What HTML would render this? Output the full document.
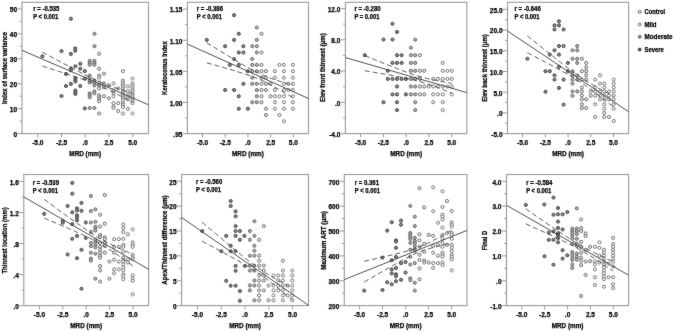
<!DOCTYPE html>
<html><head><meta charset="utf-8"><style>
html,body{margin:0;padding:0;background:#fff;}
body{width:675px;height:331px;overflow:hidden;}
svg{display:block;filter:grayscale(1)}
svg text{font-family:"Liberation Sans",sans-serif;font-weight:bold;font-size:6.5px;fill:#000000;stroke:#000000;stroke-width:0.25px}
</style></head><body>
<svg width="675" height="331" viewBox="0 0 675 331">
<defs><filter id="bl" color-interpolation-filters="sRGB" x="0" y="0" width="675" height="331" filterUnits="userSpaceOnUse"><feConvolveMatrix order="3" kernelMatrix="0.012 0.05 0.012 0.05 0.752 0.05 0.012 0.05 0.012" edgeMode="duplicate" preserveAlpha="true"/></filter></defs>
<g filter="url(#bl)">
<rect width="675" height="331" fill="#fff"/>
<rect x="22" y="2.3" width="126.5" height="131.3" fill="none" stroke="#9a9a9a" stroke-width="1.1"/>
<line x1="17.5" y1="8.9" x2="22" y2="8.9" stroke="#9a9a9a" stroke-width="1"/>
<text x="17" y="12.2" text-anchor="end" textLength="7.23" lengthAdjust="spacingAndGlyphs">50</text>
<line x1="19.7" y1="21.37" x2="22" y2="21.37" stroke="#9a9a9a" stroke-width="1"/>
<line x1="17.5" y1="33.84" x2="22" y2="33.84" stroke="#9a9a9a" stroke-width="1"/>
<text x="17" y="37.14" text-anchor="end" textLength="7.23" lengthAdjust="spacingAndGlyphs">40</text>
<line x1="19.7" y1="46.31" x2="22" y2="46.31" stroke="#9a9a9a" stroke-width="1"/>
<line x1="17.5" y1="58.78" x2="22" y2="58.78" stroke="#9a9a9a" stroke-width="1"/>
<text x="17" y="62.08" text-anchor="end" textLength="7.23" lengthAdjust="spacingAndGlyphs">30</text>
<line x1="19.7" y1="71.25" x2="22" y2="71.25" stroke="#9a9a9a" stroke-width="1"/>
<line x1="17.5" y1="83.72" x2="22" y2="83.72" stroke="#9a9a9a" stroke-width="1"/>
<text x="17" y="87.02" text-anchor="end" textLength="7.23" lengthAdjust="spacingAndGlyphs">20</text>
<line x1="19.7" y1="96.19" x2="22" y2="96.19" stroke="#9a9a9a" stroke-width="1"/>
<line x1="17.5" y1="108.66" x2="22" y2="108.66" stroke="#9a9a9a" stroke-width="1"/>
<text x="17" y="111.96" text-anchor="end" textLength="7.23" lengthAdjust="spacingAndGlyphs">10</text>
<line x1="19.7" y1="121.13" x2="22" y2="121.13" stroke="#9a9a9a" stroke-width="1"/>
<line x1="17.5" y1="133.6" x2="22" y2="133.6" stroke="#9a9a9a" stroke-width="1"/>
<text x="17" y="136.9" text-anchor="end" textLength="3.61" lengthAdjust="spacingAndGlyphs">0</text>
<line x1="37.81" y1="133.6" x2="37.81" y2="137.4" stroke="#9a9a9a" stroke-width="1"/>
<text x="37.81" y="145.1" text-anchor="middle" textLength="11.20" lengthAdjust="spacingAndGlyphs">-5.0</text>
<line x1="61.53" y1="133.6" x2="61.53" y2="137.4" stroke="#9a9a9a" stroke-width="1"/>
<text x="61.53" y="145.1" text-anchor="middle" textLength="11.20" lengthAdjust="spacingAndGlyphs">-2.5</text>
<line x1="85.25" y1="133.6" x2="85.25" y2="137.4" stroke="#9a9a9a" stroke-width="1"/>
<text x="85.25" y="145.1" text-anchor="middle" textLength="5.42" lengthAdjust="spacingAndGlyphs">.0</text>
<line x1="108.97" y1="133.6" x2="108.97" y2="137.4" stroke="#9a9a9a" stroke-width="1"/>
<text x="108.97" y="145.1" text-anchor="middle" textLength="9.04" lengthAdjust="spacingAndGlyphs">2.5</text>
<line x1="132.69" y1="133.6" x2="132.69" y2="137.4" stroke="#9a9a9a" stroke-width="1"/>
<text x="132.69" y="145.1" text-anchor="middle" textLength="9.04" lengthAdjust="spacingAndGlyphs">5.0</text>
<text x="85.25" y="156.2" text-anchor="middle" textLength="31.80" lengthAdjust="spacingAndGlyphs">MRD (mm)</text>
<text transform="translate(6.9,68) rotate(-90)" text-anchor="middle" textLength="72" lengthAdjust="spacingAndGlyphs">Index of surface variance</text>
<text x="33.2" y="11.2" textLength="26.24" lengthAdjust="spacingAndGlyphs">r = -0.535</text>
<text x="33.2" y="19" textLength="25.10" lengthAdjust="spacingAndGlyphs">P &lt; 0.001</text>
<circle cx="70.9" cy="18.7" r="1.55" fill="#8c8c8c" stroke="#404040" stroke-width="0.95"/>
<circle cx="61.5" cy="51.1" r="1.55" fill="#8c8c8c" stroke="#404040" stroke-width="0.95"/>
<circle cx="70.9" cy="53.9" r="1.55" fill="#8c8c8c" stroke="#404040" stroke-width="0.95"/>
<circle cx="75.2" cy="48.4" r="1.55" fill="#8c8c8c" stroke="#404040" stroke-width="0.95"/>
<circle cx="75.2" cy="50.8" r="1.55" fill="#8c8c8c" stroke="#404040" stroke-width="0.95"/>
<circle cx="42.4" cy="56.2" r="1.55" fill="#8c8c8c" stroke="#404040" stroke-width="0.95"/>
<circle cx="75.4" cy="66.2" r="1.55" fill="#8c8c8c" stroke="#404040" stroke-width="0.95"/>
<circle cx="80.3" cy="63.7" r="1.55" fill="#8c8c8c" stroke="#404040" stroke-width="0.95"/>
<circle cx="94.5" cy="33.8" r="1.55" fill="#b4b4b4" stroke="#636363" stroke-width="0.95"/>
<circle cx="94.5" cy="46.2" r="1.55" fill="#b4b4b4" stroke="#636363" stroke-width="0.95"/>
<circle cx="99.2" cy="53.8" r="1.55" fill="#f0f0f0" stroke="#666666" stroke-width="0.95"/>
<circle cx="80.3" cy="68.7" r="1.55" fill="#8c8c8c" stroke="#404040" stroke-width="0.95"/>
<circle cx="84.8" cy="71.1" r="1.55" fill="#8c8c8c" stroke="#404040" stroke-width="0.95"/>
<circle cx="70.9" cy="68.4" r="1.55" fill="#8c8c8c" stroke="#404040" stroke-width="0.95"/>
<circle cx="70.9" cy="70.3" r="1.55" fill="#8c8c8c" stroke="#404040" stroke-width="0.95"/>
<circle cx="66" cy="73.9" r="1.55" fill="#8c8c8c" stroke="#404040" stroke-width="0.95"/>
<circle cx="75.4" cy="78.2" r="1.55" fill="#8c8c8c" stroke="#404040" stroke-width="0.95"/>
<circle cx="75.4" cy="80.1" r="1.55" fill="#8c8c8c" stroke="#404040" stroke-width="0.95"/>
<circle cx="75.4" cy="81.5" r="1.55" fill="#8c8c8c" stroke="#404040" stroke-width="0.95"/>
<circle cx="70.9" cy="83.9" r="1.55" fill="#8c8c8c" stroke="#404040" stroke-width="0.95"/>
<circle cx="66" cy="86" r="1.55" fill="#8c8c8c" stroke="#404040" stroke-width="0.95"/>
<circle cx="80.3" cy="86" r="1.55" fill="#8c8c8c" stroke="#404040" stroke-width="0.95"/>
<circle cx="75.4" cy="90.5" r="1.55" fill="#8c8c8c" stroke="#404040" stroke-width="0.95"/>
<circle cx="75.4" cy="92.3" r="1.55" fill="#8c8c8c" stroke="#404040" stroke-width="0.95"/>
<circle cx="75.4" cy="93.9" r="1.55" fill="#8c8c8c" stroke="#404040" stroke-width="0.95"/>
<circle cx="61.5" cy="96" r="1.55" fill="#8c8c8c" stroke="#404040" stroke-width="0.95"/>
<circle cx="84.8" cy="108.4" r="1.55" fill="#8c8c8c" stroke="#404040" stroke-width="0.95"/>
<circle cx="89.7" cy="60.9" r="1.55" fill="#b4b4b4" stroke="#636363" stroke-width="0.95"/>
<circle cx="89.7" cy="62.9" r="1.55" fill="#b4b4b4" stroke="#636363" stroke-width="0.95"/>
<circle cx="89.7" cy="64.8" r="1.55" fill="#b4b4b4" stroke="#636363" stroke-width="0.95"/>
<circle cx="89.7" cy="75.6" r="1.55" fill="#b4b4b4" stroke="#636363" stroke-width="0.95"/>
<circle cx="89.7" cy="77.6" r="1.55" fill="#b4b4b4" stroke="#636363" stroke-width="0.95"/>
<circle cx="89.7" cy="80.5" r="1.55" fill="#b4b4b4" stroke="#636363" stroke-width="0.95"/>
<circle cx="89.7" cy="82.5" r="1.55" fill="#b4b4b4" stroke="#636363" stroke-width="0.95"/>
<circle cx="89.7" cy="93.3" r="1.55" fill="#b4b4b4" stroke="#636363" stroke-width="0.95"/>
<circle cx="89.7" cy="95.3" r="1.55" fill="#b4b4b4" stroke="#636363" stroke-width="0.95"/>
<circle cx="89.7" cy="97.2" r="1.55" fill="#b4b4b4" stroke="#636363" stroke-width="0.95"/>
<circle cx="89.7" cy="108" r="1.55" fill="#b4b4b4" stroke="#636363" stroke-width="0.95"/>
<circle cx="94.4" cy="60.9" r="1.55" fill="#b4b4b4" stroke="#636363" stroke-width="0.95"/>
<circle cx="94.4" cy="62.9" r="1.55" fill="#b4b4b4" stroke="#636363" stroke-width="0.95"/>
<circle cx="94.4" cy="64.8" r="1.55" fill="#b4b4b4" stroke="#636363" stroke-width="0.95"/>
<circle cx="94.4" cy="80.5" r="1.55" fill="#b4b4b4" stroke="#636363" stroke-width="0.95"/>
<circle cx="94.4" cy="82.5" r="1.55" fill="#b4b4b4" stroke="#636363" stroke-width="0.95"/>
<circle cx="94.4" cy="85.4" r="1.55" fill="#b4b4b4" stroke="#636363" stroke-width="0.95"/>
<circle cx="94.4" cy="91.3" r="1.55" fill="#b4b4b4" stroke="#636363" stroke-width="0.95"/>
<circle cx="94.4" cy="93.3" r="1.55" fill="#b4b4b4" stroke="#636363" stroke-width="0.95"/>
<circle cx="94.4" cy="108" r="1.55" fill="#b4b4b4" stroke="#636363" stroke-width="0.95"/>
<circle cx="85" cy="78.6" r="1.55" fill="#8c8c8c" stroke="#404040" stroke-width="0.95"/>
<circle cx="99.1" cy="68.7" r="1.55" fill="#f0f0f0" stroke="#666666" stroke-width="0.95"/>
<circle cx="99.1" cy="75.6" r="1.55" fill="#f0f0f0" stroke="#666666" stroke-width="0.95"/>
<circle cx="99.1" cy="77.6" r="1.55" fill="#f0f0f0" stroke="#666666" stroke-width="0.95"/>
<circle cx="99.1" cy="82.5" r="1.55" fill="#f0f0f0" stroke="#666666" stroke-width="0.95"/>
<circle cx="99.1" cy="85.4" r="1.55" fill="#f0f0f0" stroke="#666666" stroke-width="0.95"/>
<circle cx="99.1" cy="88.4" r="1.55" fill="#f0f0f0" stroke="#666666" stroke-width="0.95"/>
<circle cx="99.1" cy="95.3" r="1.55" fill="#f0f0f0" stroke="#666666" stroke-width="0.95"/>
<circle cx="99.1" cy="97.2" r="1.55" fill="#f0f0f0" stroke="#666666" stroke-width="0.95"/>
<circle cx="99.1" cy="99.2" r="1.55" fill="#f0f0f0" stroke="#666666" stroke-width="0.95"/>
<circle cx="99.1" cy="101.2" r="1.55" fill="#f0f0f0" stroke="#666666" stroke-width="0.95"/>
<circle cx="99.1" cy="113.5" r="1.55" fill="#f0f0f0" stroke="#666666" stroke-width="0.95"/>
<circle cx="103.9" cy="73.7" r="1.55" fill="#f0f0f0" stroke="#666666" stroke-width="0.95"/>
<circle cx="103.9" cy="83.5" r="1.55" fill="#f0f0f0" stroke="#666666" stroke-width="0.95"/>
<circle cx="103.9" cy="85.4" r="1.55" fill="#f0f0f0" stroke="#666666" stroke-width="0.95"/>
<circle cx="103.9" cy="87.4" r="1.55" fill="#f0f0f0" stroke="#666666" stroke-width="0.95"/>
<circle cx="103.9" cy="96.2" r="1.55" fill="#f0f0f0" stroke="#666666" stroke-width="0.95"/>
<circle cx="108.8" cy="85.4" r="1.55" fill="#f0f0f0" stroke="#666666" stroke-width="0.95"/>
<circle cx="108.8" cy="98.2" r="1.55" fill="#f0f0f0" stroke="#666666" stroke-width="0.95"/>
<circle cx="113.5" cy="83.5" r="1.55" fill="#ffffff" stroke="#707070" stroke-width="0.95"/>
<circle cx="113.5" cy="90.3" r="1.55" fill="#ffffff" stroke="#707070" stroke-width="0.95"/>
<circle cx="113.5" cy="93.3" r="1.55" fill="#ffffff" stroke="#707070" stroke-width="0.95"/>
<circle cx="113.5" cy="96.2" r="1.55" fill="#ffffff" stroke="#707070" stroke-width="0.95"/>
<circle cx="113.5" cy="103.1" r="1.55" fill="#ffffff" stroke="#707070" stroke-width="0.95"/>
<circle cx="113.5" cy="106.1" r="1.55" fill="#ffffff" stroke="#707070" stroke-width="0.95"/>
<circle cx="113.5" cy="108" r="1.55" fill="#ffffff" stroke="#707070" stroke-width="0.95"/>
<circle cx="118.2" cy="88.4" r="1.55" fill="#ffffff" stroke="#707070" stroke-width="0.95"/>
<circle cx="118.2" cy="103.1" r="1.55" fill="#ffffff" stroke="#707070" stroke-width="0.95"/>
<circle cx="118.2" cy="111" r="1.55" fill="#ffffff" stroke="#707070" stroke-width="0.95"/>
<circle cx="122.9" cy="71.1" r="1.55" fill="#ffffff" stroke="#707070" stroke-width="0.95"/>
<circle cx="122.9" cy="80.5" r="1.55" fill="#ffffff" stroke="#707070" stroke-width="0.95"/>
<circle cx="122.9" cy="82.5" r="1.55" fill="#ffffff" stroke="#707070" stroke-width="0.95"/>
<circle cx="122.9" cy="84.5" r="1.55" fill="#ffffff" stroke="#707070" stroke-width="0.95"/>
<circle cx="122.9" cy="86.4" r="1.55" fill="#ffffff" stroke="#707070" stroke-width="0.95"/>
<circle cx="122.9" cy="88.4" r="1.55" fill="#ffffff" stroke="#707070" stroke-width="0.95"/>
<circle cx="122.9" cy="90.3" r="1.55" fill="#ffffff" stroke="#707070" stroke-width="0.95"/>
<circle cx="122.9" cy="92.3" r="1.55" fill="#ffffff" stroke="#707070" stroke-width="0.95"/>
<circle cx="122.9" cy="94.3" r="1.55" fill="#ffffff" stroke="#707070" stroke-width="0.95"/>
<circle cx="122.9" cy="96.2" r="1.55" fill="#ffffff" stroke="#707070" stroke-width="0.95"/>
<circle cx="122.9" cy="98.2" r="1.55" fill="#ffffff" stroke="#707070" stroke-width="0.95"/>
<circle cx="122.9" cy="100.2" r="1.55" fill="#ffffff" stroke="#707070" stroke-width="0.95"/>
<circle cx="122.9" cy="103.1" r="1.55" fill="#ffffff" stroke="#707070" stroke-width="0.95"/>
<circle cx="122.9" cy="105.1" r="1.55" fill="#ffffff" stroke="#707070" stroke-width="0.95"/>
<circle cx="122.9" cy="107" r="1.55" fill="#ffffff" stroke="#707070" stroke-width="0.95"/>
<circle cx="122.9" cy="113.5" r="1.55" fill="#ffffff" stroke="#707070" stroke-width="0.95"/>
<circle cx="127.8" cy="86.4" r="1.55" fill="#ffffff" stroke="#707070" stroke-width="0.95"/>
<circle cx="127.8" cy="91.3" r="1.55" fill="#ffffff" stroke="#707070" stroke-width="0.95"/>
<circle cx="127.8" cy="95.3" r="1.55" fill="#ffffff" stroke="#707070" stroke-width="0.95"/>
<circle cx="127.8" cy="97.2" r="1.55" fill="#ffffff" stroke="#707070" stroke-width="0.95"/>
<circle cx="127.8" cy="99.2" r="1.55" fill="#ffffff" stroke="#707070" stroke-width="0.95"/>
<circle cx="127.8" cy="109" r="1.55" fill="#ffffff" stroke="#707070" stroke-width="0.95"/>
<circle cx="132.5" cy="78.6" r="1.55" fill="#ffffff" stroke="#707070" stroke-width="0.95"/>
<circle cx="132.5" cy="83.5" r="1.55" fill="#ffffff" stroke="#707070" stroke-width="0.95"/>
<circle cx="132.5" cy="85.4" r="1.55" fill="#ffffff" stroke="#707070" stroke-width="0.95"/>
<circle cx="132.5" cy="87.4" r="1.55" fill="#ffffff" stroke="#707070" stroke-width="0.95"/>
<circle cx="132.5" cy="89.4" r="1.55" fill="#ffffff" stroke="#707070" stroke-width="0.95"/>
<circle cx="132.5" cy="91.3" r="1.55" fill="#ffffff" stroke="#707070" stroke-width="0.95"/>
<circle cx="132.5" cy="93.3" r="1.55" fill="#ffffff" stroke="#707070" stroke-width="0.95"/>
<circle cx="132.5" cy="95.3" r="1.55" fill="#ffffff" stroke="#707070" stroke-width="0.95"/>
<circle cx="132.5" cy="97.2" r="1.55" fill="#ffffff" stroke="#707070" stroke-width="0.95"/>
<circle cx="132.5" cy="99.2" r="1.55" fill="#ffffff" stroke="#707070" stroke-width="0.95"/>
<circle cx="132.5" cy="101.2" r="1.55" fill="#ffffff" stroke="#707070" stroke-width="0.95"/>
<circle cx="132.5" cy="103.1" r="1.55" fill="#ffffff" stroke="#707070" stroke-width="0.95"/>
<circle cx="132.5" cy="113.5" r="1.55" fill="#ffffff" stroke="#707070" stroke-width="0.95"/>
<line x1="22" y1="50.3" x2="148.5" y2="104.8" stroke="#3c3c3c" stroke-width="0.9"/>
<polyline points="42.4,52.09 44.66,53.32 46.91,54.54 49.17,55.77 51.43,56.99 53.69,58.21 55.94,59.43 58.2,60.65 60.46,61.87 62.72,63.09 64.97,64.3 67.23,65.51 69.49,66.71 71.75,67.91 74,69.11 76.26,70.3 78.52,71.48 80.78,72.66 83.03,73.82 85.29,74.97 87.55,76.1 89.81,77.22 92.06,78.31 94.32,79.37 96.58,80.4 98.84,81.4 101.09,82.37 103.35,83.3 105.61,84.19 107.87,85.06 110.12,85.9 112.38,86.72 114.64,87.53 116.9,88.31 119.15,89.09 121.41,89.86 123.67,90.62 125.93,91.37 128.18,92.11 130.44,92.86 132.7,93.59" fill="none" stroke="#3c3c3c" stroke-width="0.85" stroke-dasharray="5 3"/>
<polyline points="42.4,66.09 44.66,66.81 46.91,67.52 49.17,68.25 51.43,68.97 53.69,69.69 55.94,70.41 58.2,71.14 60.46,71.87 62.72,72.6 64.97,73.33 67.23,74.07 69.49,74.81 71.75,75.55 74,76.3 76.26,77.06 78.52,77.82 80.78,78.59 83.03,79.37 85.29,80.17 87.55,80.98 89.81,81.81 92.06,82.66 94.32,83.55 96.58,84.46 98.84,85.4 101.09,86.39 103.35,87.4 105.61,88.45 107.87,89.53 110.12,90.63 112.38,91.76 114.64,92.9 116.9,94.05 119.15,95.22 121.41,96.4 123.67,97.59 125.93,98.78 128.18,99.98 130.44,101.18 132.7,102.39" fill="none" stroke="#3c3c3c" stroke-width="0.85" stroke-dasharray="5 3"/>
<rect x="187.4" y="2.3" width="121.1" height="131.3" fill="none" stroke="#9a9a9a" stroke-width="1.1"/>
<line x1="182.9" y1="9.1" x2="187.4" y2="9.1" stroke="#9a9a9a" stroke-width="1"/>
<text x="182.4" y="12.4" text-anchor="end" textLength="12.65" lengthAdjust="spacingAndGlyphs">1.15</text>
<line x1="185.1" y1="24.66" x2="187.4" y2="24.66" stroke="#9a9a9a" stroke-width="1"/>
<line x1="182.9" y1="40.23" x2="187.4" y2="40.23" stroke="#9a9a9a" stroke-width="1"/>
<text x="182.4" y="43.52" text-anchor="end" textLength="12.65" lengthAdjust="spacingAndGlyphs">1.10</text>
<line x1="185.1" y1="55.79" x2="187.4" y2="55.79" stroke="#9a9a9a" stroke-width="1"/>
<line x1="182.9" y1="71.35" x2="187.4" y2="71.35" stroke="#9a9a9a" stroke-width="1"/>
<text x="182.4" y="74.65" text-anchor="end" textLength="12.65" lengthAdjust="spacingAndGlyphs">1.05</text>
<line x1="185.1" y1="86.91" x2="187.4" y2="86.91" stroke="#9a9a9a" stroke-width="1"/>
<line x1="182.9" y1="102.47" x2="187.4" y2="102.47" stroke="#9a9a9a" stroke-width="1"/>
<text x="182.4" y="105.77" text-anchor="end" textLength="12.65" lengthAdjust="spacingAndGlyphs">1.00</text>
<line x1="185.1" y1="118.04" x2="187.4" y2="118.04" stroke="#9a9a9a" stroke-width="1"/>
<line x1="182.9" y1="133.6" x2="187.4" y2="133.6" stroke="#9a9a9a" stroke-width="1"/>
<text x="182.4" y="136.9" text-anchor="end" textLength="9.04" lengthAdjust="spacingAndGlyphs">.95</text>
<line x1="202.54" y1="133.6" x2="202.54" y2="137.4" stroke="#9a9a9a" stroke-width="1"/>
<text x="202.54" y="145.1" text-anchor="middle" textLength="11.20" lengthAdjust="spacingAndGlyphs">-5.0</text>
<line x1="225.24" y1="133.6" x2="225.24" y2="137.4" stroke="#9a9a9a" stroke-width="1"/>
<text x="225.24" y="145.1" text-anchor="middle" textLength="11.20" lengthAdjust="spacingAndGlyphs">-2.5</text>
<line x1="247.95" y1="133.6" x2="247.95" y2="137.4" stroke="#9a9a9a" stroke-width="1"/>
<text x="247.95" y="145.1" text-anchor="middle" textLength="5.42" lengthAdjust="spacingAndGlyphs">.0</text>
<line x1="270.66" y1="133.6" x2="270.66" y2="137.4" stroke="#9a9a9a" stroke-width="1"/>
<text x="270.66" y="145.1" text-anchor="middle" textLength="9.04" lengthAdjust="spacingAndGlyphs">2.5</text>
<line x1="293.36" y1="133.6" x2="293.36" y2="137.4" stroke="#9a9a9a" stroke-width="1"/>
<text x="293.36" y="145.1" text-anchor="middle" textLength="9.04" lengthAdjust="spacingAndGlyphs">5.0</text>
<text x="247.95" y="156.2" text-anchor="middle" textLength="31.80" lengthAdjust="spacingAndGlyphs">MRD (mm)</text>
<text transform="translate(166.9,68.1) rotate(-90)" text-anchor="middle" textLength="53.6" lengthAdjust="spacingAndGlyphs">Keratoconus index</text>
<text x="196.8" y="11.2" textLength="26.24" lengthAdjust="spacingAndGlyphs">r = -0.386</text>
<text x="196.8" y="19" textLength="25.10" lengthAdjust="spacingAndGlyphs">P &lt; 0.001</text>
<circle cx="234.1" cy="15.2" r="1.55" fill="#8c8c8c" stroke="#404040" stroke-width="0.95"/>
<circle cx="238.8" cy="33.8" r="1.55" fill="#8c8c8c" stroke="#404040" stroke-width="0.95"/>
<circle cx="206.8" cy="39.9" r="1.55" fill="#8c8c8c" stroke="#404040" stroke-width="0.95"/>
<circle cx="234.1" cy="39.9" r="1.55" fill="#8c8c8c" stroke="#404040" stroke-width="0.95"/>
<circle cx="225.1" cy="46.2" r="1.55" fill="#8c8c8c" stroke="#404040" stroke-width="0.95"/>
<circle cx="243.4" cy="46.2" r="1.55" fill="#8c8c8c" stroke="#404040" stroke-width="0.95"/>
<circle cx="238.8" cy="52.5" r="1.55" fill="#8c8c8c" stroke="#404040" stroke-width="0.95"/>
<circle cx="243.4" cy="52.5" r="1.55" fill="#8c8c8c" stroke="#404040" stroke-width="0.95"/>
<circle cx="234.1" cy="59" r="1.55" fill="#8c8c8c" stroke="#404040" stroke-width="0.95"/>
<circle cx="229.8" cy="64.9" r="1.55" fill="#8c8c8c" stroke="#404040" stroke-width="0.95"/>
<circle cx="238.8" cy="64.9" r="1.55" fill="#8c8c8c" stroke="#404040" stroke-width="0.95"/>
<circle cx="256.8" cy="27.5" r="1.55" fill="#b4b4b4" stroke="#636363" stroke-width="0.95"/>
<circle cx="261.5" cy="33.8" r="1.55" fill="#f0f0f0" stroke="#666666" stroke-width="0.95"/>
<circle cx="256.8" cy="39.9" r="1.55" fill="#b4b4b4" stroke="#636363" stroke-width="0.95"/>
<circle cx="252.3" cy="46.2" r="1.55" fill="#b4b4b4" stroke="#636363" stroke-width="0.95"/>
<circle cx="256.8" cy="46.2" r="1.55" fill="#b4b4b4" stroke="#636363" stroke-width="0.95"/>
<circle cx="256.8" cy="52.5" r="1.55" fill="#b4b4b4" stroke="#636363" stroke-width="0.95"/>
<circle cx="261.5" cy="52.5" r="1.55" fill="#f0f0f0" stroke="#666666" stroke-width="0.95"/>
<circle cx="252.3" cy="59" r="1.55" fill="#b4b4b4" stroke="#636363" stroke-width="0.95"/>
<circle cx="252.3" cy="64.9" r="1.55" fill="#b4b4b4" stroke="#636363" stroke-width="0.95"/>
<circle cx="256.8" cy="64.9" r="1.55" fill="#b4b4b4" stroke="#636363" stroke-width="0.95"/>
<circle cx="261.5" cy="64.9" r="1.55" fill="#f0f0f0" stroke="#666666" stroke-width="0.95"/>
<circle cx="279.4" cy="64.9" r="1.55" fill="#ffffff" stroke="#707070" stroke-width="0.95"/>
<circle cx="283.9" cy="64.9" r="1.55" fill="#ffffff" stroke="#707070" stroke-width="0.95"/>
<circle cx="292.9" cy="64.9" r="1.55" fill="#ffffff" stroke="#707070" stroke-width="0.95"/>
<circle cx="243.4" cy="83.8" r="1.55" fill="#8c8c8c" stroke="#404040" stroke-width="0.95"/>
<circle cx="225.1" cy="90" r="1.55" fill="#8c8c8c" stroke="#404040" stroke-width="0.95"/>
<circle cx="234.1" cy="90" r="1.55" fill="#8c8c8c" stroke="#404040" stroke-width="0.95"/>
<circle cx="238.8" cy="96.3" r="1.55" fill="#8c8c8c" stroke="#404040" stroke-width="0.95"/>
<circle cx="238.8" cy="108.7" r="1.55" fill="#8c8c8c" stroke="#404040" stroke-width="0.95"/>
<circle cx="247.9" cy="108.7" r="1.55" fill="#8c8c8c" stroke="#404040" stroke-width="0.95"/>
<circle cx="247.7" cy="71.2" r="1.55" fill="#8c8c8c" stroke="#404040" stroke-width="0.95"/>
<circle cx="252.3" cy="71.2" r="1.55" fill="#b4b4b4" stroke="#636363" stroke-width="0.95"/>
<circle cx="256.8" cy="71.2" r="1.55" fill="#b4b4b4" stroke="#636363" stroke-width="0.95"/>
<circle cx="261.5" cy="71.2" r="1.55" fill="#f0f0f0" stroke="#666666" stroke-width="0.95"/>
<circle cx="266" cy="71.2" r="1.55" fill="#f0f0f0" stroke="#666666" stroke-width="0.95"/>
<circle cx="274.9" cy="71.2" r="1.55" fill="#ffffff" stroke="#707070" stroke-width="0.95"/>
<circle cx="283.9" cy="71.2" r="1.55" fill="#ffffff" stroke="#707070" stroke-width="0.95"/>
<circle cx="292.9" cy="71.2" r="1.55" fill="#ffffff" stroke="#707070" stroke-width="0.95"/>
<circle cx="252.3" cy="77.7" r="1.55" fill="#b4b4b4" stroke="#636363" stroke-width="0.95"/>
<circle cx="261.5" cy="77.7" r="1.55" fill="#f0f0f0" stroke="#666666" stroke-width="0.95"/>
<circle cx="266" cy="77.7" r="1.55" fill="#f0f0f0" stroke="#666666" stroke-width="0.95"/>
<circle cx="274.9" cy="77.7" r="1.55" fill="#ffffff" stroke="#707070" stroke-width="0.95"/>
<circle cx="283.9" cy="77.7" r="1.55" fill="#ffffff" stroke="#707070" stroke-width="0.95"/>
<circle cx="292.9" cy="77.7" r="1.55" fill="#ffffff" stroke="#707070" stroke-width="0.95"/>
<circle cx="252.3" cy="83.8" r="1.55" fill="#b4b4b4" stroke="#636363" stroke-width="0.95"/>
<circle cx="256.8" cy="83.8" r="1.55" fill="#b4b4b4" stroke="#636363" stroke-width="0.95"/>
<circle cx="261.5" cy="83.8" r="1.55" fill="#f0f0f0" stroke="#666666" stroke-width="0.95"/>
<circle cx="266" cy="83.8" r="1.55" fill="#f0f0f0" stroke="#666666" stroke-width="0.95"/>
<circle cx="270.5" cy="83.8" r="1.55" fill="#f0f0f0" stroke="#666666" stroke-width="0.95"/>
<circle cx="283.9" cy="83.8" r="1.55" fill="#ffffff" stroke="#707070" stroke-width="0.95"/>
<circle cx="288.4" cy="83.8" r="1.55" fill="#ffffff" stroke="#707070" stroke-width="0.95"/>
<circle cx="292.9" cy="83.8" r="1.55" fill="#ffffff" stroke="#707070" stroke-width="0.95"/>
<circle cx="256.8" cy="90" r="1.55" fill="#b4b4b4" stroke="#636363" stroke-width="0.95"/>
<circle cx="261.5" cy="90" r="1.55" fill="#f0f0f0" stroke="#666666" stroke-width="0.95"/>
<circle cx="266" cy="90" r="1.55" fill="#f0f0f0" stroke="#666666" stroke-width="0.95"/>
<circle cx="274.9" cy="90" r="1.55" fill="#ffffff" stroke="#707070" stroke-width="0.95"/>
<circle cx="283.9" cy="90" r="1.55" fill="#ffffff" stroke="#707070" stroke-width="0.95"/>
<circle cx="288.4" cy="90" r="1.55" fill="#ffffff" stroke="#707070" stroke-width="0.95"/>
<circle cx="292.9" cy="90" r="1.55" fill="#ffffff" stroke="#707070" stroke-width="0.95"/>
<circle cx="256.8" cy="96.3" r="1.55" fill="#b4b4b4" stroke="#636363" stroke-width="0.95"/>
<circle cx="261.5" cy="96.3" r="1.55" fill="#f0f0f0" stroke="#666666" stroke-width="0.95"/>
<circle cx="270.5" cy="96.3" r="1.55" fill="#f0f0f0" stroke="#666666" stroke-width="0.95"/>
<circle cx="274.9" cy="96.3" r="1.55" fill="#ffffff" stroke="#707070" stroke-width="0.95"/>
<circle cx="279.4" cy="96.3" r="1.55" fill="#ffffff" stroke="#707070" stroke-width="0.95"/>
<circle cx="283.9" cy="96.3" r="1.55" fill="#ffffff" stroke="#707070" stroke-width="0.95"/>
<circle cx="292.9" cy="96.3" r="1.55" fill="#ffffff" stroke="#707070" stroke-width="0.95"/>
<circle cx="252.3" cy="102.2" r="1.55" fill="#b4b4b4" stroke="#636363" stroke-width="0.95"/>
<circle cx="256.8" cy="102.2" r="1.55" fill="#b4b4b4" stroke="#636363" stroke-width="0.95"/>
<circle cx="261.5" cy="102.2" r="1.55" fill="#f0f0f0" stroke="#666666" stroke-width="0.95"/>
<circle cx="274.9" cy="102.2" r="1.55" fill="#ffffff" stroke="#707070" stroke-width="0.95"/>
<circle cx="283.9" cy="102.2" r="1.55" fill="#ffffff" stroke="#707070" stroke-width="0.95"/>
<circle cx="292.9" cy="102.2" r="1.55" fill="#ffffff" stroke="#707070" stroke-width="0.95"/>
<circle cx="266" cy="108.7" r="1.55" fill="#f0f0f0" stroke="#666666" stroke-width="0.95"/>
<circle cx="274.9" cy="108.7" r="1.55" fill="#ffffff" stroke="#707070" stroke-width="0.95"/>
<circle cx="283.9" cy="108.7" r="1.55" fill="#ffffff" stroke="#707070" stroke-width="0.95"/>
<circle cx="292.9" cy="108.7" r="1.55" fill="#ffffff" stroke="#707070" stroke-width="0.95"/>
<circle cx="266" cy="115" r="1.55" fill="#f0f0f0" stroke="#666666" stroke-width="0.95"/>
<circle cx="279.4" cy="115" r="1.55" fill="#ffffff" stroke="#707070" stroke-width="0.95"/>
<circle cx="283.9" cy="121.3" r="1.55" fill="#ffffff" stroke="#707070" stroke-width="0.95"/>
<line x1="187.4" y1="44.1" x2="308.5" y2="98.5" stroke="#3c3c3c" stroke-width="0.9"/>
<polyline points="206.8,42.79 208.96,44.12 211.12,45.45 213.27,46.78 215.43,48.11 217.59,49.43 219.75,50.76 221.9,52.08 224.06,53.39 226.22,54.71 228.38,56.02 230.53,57.32 232.69,58.62 234.85,59.92 237.01,61.21 239.16,62.49 241.32,63.75 243.48,65.01 245.64,66.25 247.79,67.47 249.95,68.67 252.11,69.84 254.27,70.98 256.42,72.08 258.58,73.13 260.74,74.14 262.9,75.1 265.05,76.01 267.21,76.88 269.37,77.7 271.53,78.49 273.68,79.24 275.84,79.97 278,80.68 280.16,81.38 282.31,82.05 284.47,82.72 286.63,83.38 288.79,84.02 290.94,84.67 293.1,85.3" fill="none" stroke="#3c3c3c" stroke-width="0.85" stroke-dasharray="5 3"/>
<polyline points="206.8,62.84 208.96,63.45 211.12,64.05 213.27,64.66 215.43,65.28 217.59,65.89 219.75,66.5 221.9,67.12 224.06,67.74 226.22,68.37 228.38,69 230.53,69.63 232.69,70.26 234.85,70.91 237.01,71.56 239.16,72.22 241.32,72.89 243.48,73.57 245.64,74.27 247.79,74.99 249.95,75.73 252.11,76.5 254.27,77.3 256.42,78.14 258.58,79.02 260.74,79.95 262.9,80.93 265.05,81.95 267.21,83.03 269.37,84.14 271.53,85.29 273.68,86.47 275.84,87.68 278,88.91 280.16,90.16 282.31,91.42 284.47,92.69 286.63,93.97 288.79,95.26 290.94,96.56 293.1,97.86" fill="none" stroke="#3c3c3c" stroke-width="0.85" stroke-dasharray="5 3"/>
<rect x="345.4" y="2.3" width="121.5" height="131.3" fill="none" stroke="#9a9a9a" stroke-width="1.1"/>
<line x1="340.9" y1="8.5" x2="345.4" y2="8.5" stroke="#9a9a9a" stroke-width="1"/>
<text x="340.4" y="11.8" text-anchor="end" textLength="12.65" lengthAdjust="spacingAndGlyphs">12.0</text>
<line x1="343.1" y1="24.14" x2="345.4" y2="24.14" stroke="#9a9a9a" stroke-width="1"/>
<line x1="340.9" y1="39.77" x2="345.4" y2="39.77" stroke="#9a9a9a" stroke-width="1"/>
<text x="340.4" y="43.07" text-anchor="end" textLength="9.04" lengthAdjust="spacingAndGlyphs">8.0</text>
<line x1="343.1" y1="55.41" x2="345.4" y2="55.41" stroke="#9a9a9a" stroke-width="1"/>
<line x1="340.9" y1="71.05" x2="345.4" y2="71.05" stroke="#9a9a9a" stroke-width="1"/>
<text x="340.4" y="74.35" text-anchor="end" textLength="9.04" lengthAdjust="spacingAndGlyphs">4.0</text>
<line x1="343.1" y1="86.69" x2="345.4" y2="86.69" stroke="#9a9a9a" stroke-width="1"/>
<line x1="340.9" y1="102.32" x2="345.4" y2="102.32" stroke="#9a9a9a" stroke-width="1"/>
<text x="340.4" y="105.62" text-anchor="end" textLength="5.42" lengthAdjust="spacingAndGlyphs">.0</text>
<line x1="343.1" y1="117.96" x2="345.4" y2="117.96" stroke="#9a9a9a" stroke-width="1"/>
<line x1="340.9" y1="133.6" x2="345.4" y2="133.6" stroke="#9a9a9a" stroke-width="1"/>
<text x="340.4" y="136.9" text-anchor="end" textLength="11.20" lengthAdjust="spacingAndGlyphs">-4.0</text>
<line x1="360.59" y1="133.6" x2="360.59" y2="137.4" stroke="#9a9a9a" stroke-width="1"/>
<text x="360.59" y="145.1" text-anchor="middle" textLength="11.20" lengthAdjust="spacingAndGlyphs">-5.0</text>
<line x1="383.37" y1="133.6" x2="383.37" y2="137.4" stroke="#9a9a9a" stroke-width="1"/>
<text x="383.37" y="145.1" text-anchor="middle" textLength="11.20" lengthAdjust="spacingAndGlyphs">-2.5</text>
<line x1="406.15" y1="133.6" x2="406.15" y2="137.4" stroke="#9a9a9a" stroke-width="1"/>
<text x="406.15" y="145.1" text-anchor="middle" textLength="5.42" lengthAdjust="spacingAndGlyphs">.0</text>
<line x1="428.93" y1="133.6" x2="428.93" y2="137.4" stroke="#9a9a9a" stroke-width="1"/>
<text x="428.93" y="145.1" text-anchor="middle" textLength="9.04" lengthAdjust="spacingAndGlyphs">2.5</text>
<line x1="451.71" y1="133.6" x2="451.71" y2="137.4" stroke="#9a9a9a" stroke-width="1"/>
<text x="451.71" y="145.1" text-anchor="middle" textLength="9.04" lengthAdjust="spacingAndGlyphs">5.0</text>
<text x="406.15" y="156.2" text-anchor="middle" textLength="31.80" lengthAdjust="spacingAndGlyphs">MRD (mm)</text>
<text transform="translate(325,67.6) rotate(-90)" text-anchor="middle" textLength="68.6" lengthAdjust="spacingAndGlyphs">Elev front thinnest (μm)</text>
<text x="354.4" y="11.2" textLength="26.24" lengthAdjust="spacingAndGlyphs">r = -0.280</text>
<text x="354.4" y="19" textLength="25.10" lengthAdjust="spacingAndGlyphs">P = 0.001</text>
<circle cx="392.5" cy="23.8" r="1.55" fill="#8c8c8c" stroke="#404040" stroke-width="0.95"/>
<circle cx="397" cy="31.9" r="1.55" fill="#8c8c8c" stroke="#404040" stroke-width="0.95"/>
<circle cx="383.5" cy="39.5" r="1.55" fill="#8c8c8c" stroke="#404040" stroke-width="0.95"/>
<circle cx="392.5" cy="39.5" r="1.55" fill="#8c8c8c" stroke="#404040" stroke-width="0.95"/>
<circle cx="364.8" cy="55.2" r="1.55" fill="#8c8c8c" stroke="#404040" stroke-width="0.95"/>
<circle cx="397" cy="55.2" r="1.55" fill="#8c8c8c" stroke="#404040" stroke-width="0.95"/>
<circle cx="401.6" cy="55.2" r="1.55" fill="#8c8c8c" stroke="#404040" stroke-width="0.95"/>
<circle cx="392.5" cy="62.9" r="1.55" fill="#8c8c8c" stroke="#404040" stroke-width="0.95"/>
<circle cx="397" cy="62.9" r="1.55" fill="#8c8c8c" stroke="#404040" stroke-width="0.95"/>
<circle cx="401.6" cy="62.9" r="1.55" fill="#8c8c8c" stroke="#404040" stroke-width="0.95"/>
<circle cx="415.2" cy="39.7" r="1.55" fill="#b4b4b4" stroke="#636363" stroke-width="0.95"/>
<circle cx="410.9" cy="47.6" r="1.55" fill="#b4b4b4" stroke="#636363" stroke-width="0.95"/>
<circle cx="410.9" cy="55.2" r="1.55" fill="#b4b4b4" stroke="#636363" stroke-width="0.95"/>
<circle cx="415.2" cy="55.2" r="1.55" fill="#b4b4b4" stroke="#636363" stroke-width="0.95"/>
<circle cx="419.9" cy="55.2" r="1.55" fill="#f0f0f0" stroke="#666666" stroke-width="0.95"/>
<circle cx="410.9" cy="62.9" r="1.55" fill="#b4b4b4" stroke="#636363" stroke-width="0.95"/>
<circle cx="415.2" cy="62.9" r="1.55" fill="#b4b4b4" stroke="#636363" stroke-width="0.95"/>
<circle cx="442.7" cy="62.9" r="1.55" fill="#ffffff" stroke="#707070" stroke-width="0.95"/>
<circle cx="387.8" cy="70.8" r="1.55" fill="#8c8c8c" stroke="#404040" stroke-width="0.95"/>
<circle cx="397" cy="86.5" r="1.55" fill="#8c8c8c" stroke="#404040" stroke-width="0.95"/>
<circle cx="392.5" cy="94.4" r="1.55" fill="#8c8c8c" stroke="#404040" stroke-width="0.95"/>
<circle cx="397" cy="94.4" r="1.55" fill="#8c8c8c" stroke="#404040" stroke-width="0.95"/>
<circle cx="383.5" cy="102.2" r="1.55" fill="#8c8c8c" stroke="#404040" stroke-width="0.95"/>
<circle cx="397" cy="102.2" r="1.55" fill="#8c8c8c" stroke="#404040" stroke-width="0.95"/>
<circle cx="397" cy="110.1" r="1.55" fill="#8c8c8c" stroke="#404040" stroke-width="0.95"/>
<circle cx="410.9" cy="70.8" r="1.55" fill="#b4b4b4" stroke="#636363" stroke-width="0.95"/>
<circle cx="415.2" cy="70.8" r="1.55" fill="#b4b4b4" stroke="#636363" stroke-width="0.95"/>
<circle cx="419.9" cy="70.8" r="1.55" fill="#f0f0f0" stroke="#666666" stroke-width="0.95"/>
<circle cx="424.2" cy="70.8" r="1.55" fill="#f0f0f0" stroke="#666666" stroke-width="0.95"/>
<circle cx="442.7" cy="70.8" r="1.55" fill="#ffffff" stroke="#707070" stroke-width="0.95"/>
<circle cx="447.4" cy="70.8" r="1.55" fill="#ffffff" stroke="#707070" stroke-width="0.95"/>
<circle cx="451.7" cy="70.8" r="1.55" fill="#ffffff" stroke="#707070" stroke-width="0.95"/>
<circle cx="387.8" cy="78.9" r="1.55" fill="#8c8c8c" stroke="#404040" stroke-width="0.95"/>
<circle cx="392.5" cy="78.9" r="1.55" fill="#8c8c8c" stroke="#404040" stroke-width="0.95"/>
<circle cx="397" cy="78.9" r="1.55" fill="#8c8c8c" stroke="#404040" stroke-width="0.95"/>
<circle cx="401.6" cy="78.9" r="1.55" fill="#8c8c8c" stroke="#404040" stroke-width="0.95"/>
<circle cx="405.9" cy="78.9" r="1.55" fill="#8c8c8c" stroke="#404040" stroke-width="0.95"/>
<circle cx="410.9" cy="78.9" r="1.55" fill="#b4b4b4" stroke="#636363" stroke-width="0.95"/>
<circle cx="415.2" cy="78.9" r="1.55" fill="#b4b4b4" stroke="#636363" stroke-width="0.95"/>
<circle cx="419.9" cy="78.9" r="1.55" fill="#f0f0f0" stroke="#666666" stroke-width="0.95"/>
<circle cx="433.2" cy="78.9" r="1.55" fill="#ffffff" stroke="#707070" stroke-width="0.95"/>
<circle cx="438" cy="78.9" r="1.55" fill="#ffffff" stroke="#707070" stroke-width="0.95"/>
<circle cx="442.7" cy="78.9" r="1.55" fill="#ffffff" stroke="#707070" stroke-width="0.95"/>
<circle cx="447.4" cy="78.9" r="1.55" fill="#ffffff" stroke="#707070" stroke-width="0.95"/>
<circle cx="451.7" cy="78.9" r="1.55" fill="#ffffff" stroke="#707070" stroke-width="0.95"/>
<circle cx="410.9" cy="86.5" r="1.55" fill="#b4b4b4" stroke="#636363" stroke-width="0.95"/>
<circle cx="415.2" cy="86.5" r="1.55" fill="#b4b4b4" stroke="#636363" stroke-width="0.95"/>
<circle cx="419.9" cy="86.5" r="1.55" fill="#f0f0f0" stroke="#666666" stroke-width="0.95"/>
<circle cx="424.2" cy="86.5" r="1.55" fill="#f0f0f0" stroke="#666666" stroke-width="0.95"/>
<circle cx="428.7" cy="86.5" r="1.55" fill="#f0f0f0" stroke="#666666" stroke-width="0.95"/>
<circle cx="433.2" cy="86.5" r="1.55" fill="#ffffff" stroke="#707070" stroke-width="0.95"/>
<circle cx="438" cy="86.5" r="1.55" fill="#ffffff" stroke="#707070" stroke-width="0.95"/>
<circle cx="442.7" cy="86.5" r="1.55" fill="#ffffff" stroke="#707070" stroke-width="0.95"/>
<circle cx="447.4" cy="86.5" r="1.55" fill="#ffffff" stroke="#707070" stroke-width="0.95"/>
<circle cx="451.7" cy="86.5" r="1.55" fill="#ffffff" stroke="#707070" stroke-width="0.95"/>
<circle cx="405.9" cy="94.4" r="1.55" fill="#8c8c8c" stroke="#404040" stroke-width="0.95"/>
<circle cx="410.9" cy="94.4" r="1.55" fill="#b4b4b4" stroke="#636363" stroke-width="0.95"/>
<circle cx="415.2" cy="94.4" r="1.55" fill="#b4b4b4" stroke="#636363" stroke-width="0.95"/>
<circle cx="419.9" cy="94.4" r="1.55" fill="#f0f0f0" stroke="#666666" stroke-width="0.95"/>
<circle cx="424.2" cy="94.4" r="1.55" fill="#f0f0f0" stroke="#666666" stroke-width="0.95"/>
<circle cx="433.2" cy="94.4" r="1.55" fill="#ffffff" stroke="#707070" stroke-width="0.95"/>
<circle cx="438" cy="94.4" r="1.55" fill="#ffffff" stroke="#707070" stroke-width="0.95"/>
<circle cx="442.7" cy="94.4" r="1.55" fill="#ffffff" stroke="#707070" stroke-width="0.95"/>
<circle cx="451.7" cy="94.4" r="1.55" fill="#ffffff" stroke="#707070" stroke-width="0.95"/>
<circle cx="415.2" cy="102.2" r="1.55" fill="#b4b4b4" stroke="#636363" stroke-width="0.95"/>
<circle cx="433.2" cy="102.2" r="1.55" fill="#ffffff" stroke="#707070" stroke-width="0.95"/>
<circle cx="442.7" cy="102.2" r="1.55" fill="#ffffff" stroke="#707070" stroke-width="0.95"/>
<circle cx="415.2" cy="110.1" r="1.55" fill="#b4b4b4" stroke="#636363" stroke-width="0.95"/>
<circle cx="442.7" cy="110.1" r="1.55" fill="#ffffff" stroke="#707070" stroke-width="0.95"/>
<line x1="345.4" y1="57.6" x2="466.9" y2="92.6" stroke="#3c3c3c" stroke-width="0.9"/>
<polyline points="364.8,55.6 366.97,56.5 369.14,57.39 371.32,58.28 373.49,59.16 375.66,60.05 377.84,60.93 380.01,61.82 382.18,62.7 384.35,63.57 386.52,64.44 388.7,65.31 390.87,66.18 393.04,67.04 395.22,67.89 397.39,68.73 399.56,69.57 401.73,70.39 403.9,71.21 406.08,72.01 408.25,72.79 410.42,73.55 412.6,74.29 414.77,75 416.94,75.68 419.11,76.33 421.29,76.95 423.46,77.54 425.63,78.1 427.8,78.63 429.98,79.13 432.15,79.62 434.32,80.08 436.49,80.53 438.66,80.96 440.84,81.38 443.01,81.8 445.18,82.2 447.36,82.6 449.53,82.99 451.7,83.37" fill="none" stroke="#3c3c3c" stroke-width="0.85" stroke-dasharray="5 3"/>
<polyline points="364.8,70.77 366.97,71.13 369.14,71.49 371.32,71.86 373.49,72.22 375.66,72.58 377.84,72.95 380.01,73.32 382.18,73.69 384.35,74.07 386.52,74.45 388.7,74.83 390.87,75.22 393.04,75.61 395.22,76.01 397.39,76.42 399.56,76.83 401.73,77.26 403.9,77.7 406.08,78.15 408.25,78.62 410.42,79.11 412.6,79.63 414.77,80.17 416.94,80.74 419.11,81.34 421.29,81.97 423.46,82.63 425.63,83.32 427.8,84.05 429.98,84.79 432.15,85.56 434.32,86.35 436.49,87.15 438.66,87.97 440.84,88.8 443.01,89.64 445.18,90.49 447.36,91.34 449.53,92.2 451.7,93.07" fill="none" stroke="#3c3c3c" stroke-width="0.85" stroke-dasharray="5 3"/>
<rect x="507.5" y="2.3" width="121.1" height="131.3" fill="none" stroke="#9a9a9a" stroke-width="1.1"/>
<line x1="503" y1="9.4" x2="507.5" y2="9.4" stroke="#9a9a9a" stroke-width="1"/>
<text x="502.5" y="12.7" text-anchor="end" textLength="12.65" lengthAdjust="spacingAndGlyphs">25.0</text>
<line x1="505.2" y1="19.75" x2="507.5" y2="19.75" stroke="#9a9a9a" stroke-width="1"/>
<line x1="503" y1="30.1" x2="507.5" y2="30.1" stroke="#9a9a9a" stroke-width="1"/>
<text x="502.5" y="33.4" text-anchor="end" textLength="12.65" lengthAdjust="spacingAndGlyphs">20.0</text>
<line x1="505.2" y1="40.45" x2="507.5" y2="40.45" stroke="#9a9a9a" stroke-width="1"/>
<line x1="503" y1="50.8" x2="507.5" y2="50.8" stroke="#9a9a9a" stroke-width="1"/>
<text x="502.5" y="54.1" text-anchor="end" textLength="12.65" lengthAdjust="spacingAndGlyphs">15.0</text>
<line x1="505.2" y1="61.15" x2="507.5" y2="61.15" stroke="#9a9a9a" stroke-width="1"/>
<line x1="503" y1="71.5" x2="507.5" y2="71.5" stroke="#9a9a9a" stroke-width="1"/>
<text x="502.5" y="74.8" text-anchor="end" textLength="12.65" lengthAdjust="spacingAndGlyphs">10.0</text>
<line x1="505.2" y1="81.85" x2="507.5" y2="81.85" stroke="#9a9a9a" stroke-width="1"/>
<line x1="503" y1="92.2" x2="507.5" y2="92.2" stroke="#9a9a9a" stroke-width="1"/>
<text x="502.5" y="95.5" text-anchor="end" textLength="9.04" lengthAdjust="spacingAndGlyphs">5.0</text>
<line x1="505.2" y1="102.55" x2="507.5" y2="102.55" stroke="#9a9a9a" stroke-width="1"/>
<line x1="503" y1="112.9" x2="507.5" y2="112.9" stroke="#9a9a9a" stroke-width="1"/>
<text x="502.5" y="116.2" text-anchor="end" textLength="5.42" lengthAdjust="spacingAndGlyphs">.0</text>
<line x1="505.2" y1="123.25" x2="507.5" y2="123.25" stroke="#9a9a9a" stroke-width="1"/>
<line x1="503" y1="133.6" x2="507.5" y2="133.6" stroke="#9a9a9a" stroke-width="1"/>
<text x="502.5" y="136.9" text-anchor="end" textLength="11.20" lengthAdjust="spacingAndGlyphs">-5.0</text>
<line x1="522.64" y1="133.6" x2="522.64" y2="137.4" stroke="#9a9a9a" stroke-width="1"/>
<text x="522.64" y="145.1" text-anchor="middle" textLength="11.20" lengthAdjust="spacingAndGlyphs">-5.0</text>
<line x1="545.34" y1="133.6" x2="545.34" y2="137.4" stroke="#9a9a9a" stroke-width="1"/>
<text x="545.34" y="145.1" text-anchor="middle" textLength="11.20" lengthAdjust="spacingAndGlyphs">-2.5</text>
<line x1="568.05" y1="133.6" x2="568.05" y2="137.4" stroke="#9a9a9a" stroke-width="1"/>
<text x="568.05" y="145.1" text-anchor="middle" textLength="5.42" lengthAdjust="spacingAndGlyphs">.0</text>
<line x1="590.76" y1="133.6" x2="590.76" y2="137.4" stroke="#9a9a9a" stroke-width="1"/>
<text x="590.76" y="145.1" text-anchor="middle" textLength="9.04" lengthAdjust="spacingAndGlyphs">2.5</text>
<line x1="613.46" y1="133.6" x2="613.46" y2="137.4" stroke="#9a9a9a" stroke-width="1"/>
<text x="613.46" y="145.1" text-anchor="middle" textLength="9.04" lengthAdjust="spacingAndGlyphs">5.0</text>
<text x="568.05" y="156.2" text-anchor="middle" textLength="31.80" lengthAdjust="spacingAndGlyphs">MRD (mm)</text>
<text transform="translate(486.9,68) rotate(-90)" text-anchor="middle" textLength="67.6" lengthAdjust="spacingAndGlyphs">Elev back thinnest (μm)</text>
<text x="514.5" y="11.2" textLength="26.24" lengthAdjust="spacingAndGlyphs">r = -0.646</text>
<text x="514.5" y="19" textLength="25.10" lengthAdjust="spacingAndGlyphs">P &lt; 0.001</text>
<circle cx="559" cy="21.3" r="1.55" fill="#8c8c8c" stroke="#404040" stroke-width="0.95"/>
<circle cx="554.5" cy="25.4" r="1.55" fill="#8c8c8c" stroke="#404040" stroke-width="0.95"/>
<circle cx="559" cy="25.4" r="1.55" fill="#8c8c8c" stroke="#404040" stroke-width="0.95"/>
<circle cx="554.5" cy="29.5" r="1.55" fill="#8c8c8c" stroke="#404040" stroke-width="0.95"/>
<circle cx="563.6" cy="29.5" r="1.55" fill="#8c8c8c" stroke="#404040" stroke-width="0.95"/>
<circle cx="559" cy="46" r="1.55" fill="#8c8c8c" stroke="#404040" stroke-width="0.95"/>
<circle cx="563.6" cy="46" r="1.55" fill="#8c8c8c" stroke="#404040" stroke-width="0.95"/>
<circle cx="554.5" cy="50.3" r="1.55" fill="#8c8c8c" stroke="#404040" stroke-width="0.95"/>
<circle cx="549.8" cy="54.6" r="1.55" fill="#8c8c8c" stroke="#404040" stroke-width="0.95"/>
<circle cx="559" cy="54.6" r="1.55" fill="#8c8c8c" stroke="#404040" stroke-width="0.95"/>
<circle cx="527.4" cy="58.8" r="1.55" fill="#8c8c8c" stroke="#404040" stroke-width="0.95"/>
<circle cx="559" cy="66.8" r="1.55" fill="#8c8c8c" stroke="#404040" stroke-width="0.95"/>
<circle cx="577.2" cy="46" r="1.55" fill="#b4b4b4" stroke="#636363" stroke-width="0.95"/>
<circle cx="572.5" cy="50.3" r="1.55" fill="#b4b4b4" stroke="#636363" stroke-width="0.95"/>
<circle cx="577.2" cy="50.3" r="1.55" fill="#b4b4b4" stroke="#636363" stroke-width="0.95"/>
<circle cx="572.5" cy="58.8" r="1.55" fill="#b4b4b4" stroke="#636363" stroke-width="0.95"/>
<circle cx="577.2" cy="58.8" r="1.55" fill="#b4b4b4" stroke="#636363" stroke-width="0.95"/>
<circle cx="581.9" cy="58.8" r="1.55" fill="#f0f0f0" stroke="#666666" stroke-width="0.95"/>
<circle cx="577.2" cy="62.9" r="1.55" fill="#b4b4b4" stroke="#636363" stroke-width="0.95"/>
<circle cx="567.9" cy="62.9" r="1.55" fill="#8c8c8c" stroke="#404040" stroke-width="0.95"/>
<circle cx="567.9" cy="71.2" r="1.55" fill="#8c8c8c" stroke="#404040" stroke-width="0.95"/>
<circle cx="545.5" cy="71.2" r="1.55" fill="#8c8c8c" stroke="#404040" stroke-width="0.95"/>
<circle cx="549.8" cy="71.2" r="1.55" fill="#8c8c8c" stroke="#404040" stroke-width="0.95"/>
<circle cx="554.5" cy="75.3" r="1.55" fill="#8c8c8c" stroke="#404040" stroke-width="0.95"/>
<circle cx="554.5" cy="79.6" r="1.55" fill="#8c8c8c" stroke="#404040" stroke-width="0.95"/>
<circle cx="563.6" cy="79.6" r="1.55" fill="#8c8c8c" stroke="#404040" stroke-width="0.95"/>
<circle cx="559" cy="87.9" r="1.55" fill="#8c8c8c" stroke="#404040" stroke-width="0.95"/>
<circle cx="545.5" cy="91.8" r="1.55" fill="#8c8c8c" stroke="#404040" stroke-width="0.95"/>
<circle cx="563.6" cy="104.6" r="1.55" fill="#8c8c8c" stroke="#404040" stroke-width="0.95"/>
<circle cx="572.5" cy="83.6" r="1.55" fill="#b4b4b4" stroke="#636363" stroke-width="0.95"/>
<circle cx="586.2" cy="62.9" r="1.55" fill="#f0f0f0" stroke="#666666" stroke-width="0.95"/>
<circle cx="586.2" cy="67.3" r="1.55" fill="#f0f0f0" stroke="#666666" stroke-width="0.95"/>
<circle cx="586.2" cy="71.2" r="1.55" fill="#f0f0f0" stroke="#666666" stroke-width="0.95"/>
<circle cx="586.2" cy="75.3" r="1.55" fill="#f0f0f0" stroke="#666666" stroke-width="0.95"/>
<circle cx="586.2" cy="79.6" r="1.55" fill="#f0f0f0" stroke="#666666" stroke-width="0.95"/>
<circle cx="586.2" cy="99.3" r="1.55" fill="#f0f0f0" stroke="#666666" stroke-width="0.95"/>
<circle cx="586.2" cy="108.1" r="1.55" fill="#f0f0f0" stroke="#666666" stroke-width="0.95"/>
<circle cx="581.9" cy="71.2" r="1.55" fill="#f0f0f0" stroke="#666666" stroke-width="0.95"/>
<circle cx="581.9" cy="79.6" r="1.55" fill="#f0f0f0" stroke="#666666" stroke-width="0.95"/>
<circle cx="581.9" cy="87.5" r="1.55" fill="#f0f0f0" stroke="#666666" stroke-width="0.95"/>
<circle cx="581.9" cy="91.4" r="1.55" fill="#f0f0f0" stroke="#666666" stroke-width="0.95"/>
<circle cx="581.9" cy="95.4" r="1.55" fill="#f0f0f0" stroke="#666666" stroke-width="0.95"/>
<circle cx="581.9" cy="99.3" r="1.55" fill="#f0f0f0" stroke="#666666" stroke-width="0.95"/>
<circle cx="581.9" cy="104.2" r="1.55" fill="#f0f0f0" stroke="#666666" stroke-width="0.95"/>
<circle cx="581.9" cy="108.1" r="1.55" fill="#f0f0f0" stroke="#666666" stroke-width="0.95"/>
<circle cx="572.5" cy="71.2" r="1.55" fill="#b4b4b4" stroke="#636363" stroke-width="0.95"/>
<circle cx="572.5" cy="75.3" r="1.55" fill="#b4b4b4" stroke="#636363" stroke-width="0.95"/>
<circle cx="572.5" cy="79.6" r="1.55" fill="#b4b4b4" stroke="#636363" stroke-width="0.95"/>
<circle cx="572.5" cy="91.4" r="1.55" fill="#b4b4b4" stroke="#636363" stroke-width="0.95"/>
<circle cx="572.5" cy="95.7" r="1.55" fill="#b4b4b4" stroke="#636363" stroke-width="0.95"/>
<circle cx="577.2" cy="75.3" r="1.55" fill="#b4b4b4" stroke="#636363" stroke-width="0.95"/>
<circle cx="577.2" cy="79.6" r="1.55" fill="#b4b4b4" stroke="#636363" stroke-width="0.95"/>
<circle cx="577.2" cy="91.4" r="1.55" fill="#b4b4b4" stroke="#636363" stroke-width="0.95"/>
<circle cx="600" cy="75.3" r="1.55" fill="#ffffff" stroke="#707070" stroke-width="0.95"/>
<circle cx="600" cy="83.6" r="1.55" fill="#ffffff" stroke="#707070" stroke-width="0.95"/>
<circle cx="600" cy="91.4" r="1.55" fill="#ffffff" stroke="#707070" stroke-width="0.95"/>
<circle cx="600" cy="95.7" r="1.55" fill="#ffffff" stroke="#707070" stroke-width="0.95"/>
<circle cx="600" cy="99.3" r="1.55" fill="#ffffff" stroke="#707070" stroke-width="0.95"/>
<circle cx="595.2" cy="79.6" r="1.55" fill="#ffffff" stroke="#707070" stroke-width="0.95"/>
<circle cx="595.2" cy="87.5" r="1.55" fill="#ffffff" stroke="#707070" stroke-width="0.95"/>
<circle cx="595.2" cy="91.4" r="1.55" fill="#ffffff" stroke="#707070" stroke-width="0.95"/>
<circle cx="595.2" cy="95.7" r="1.55" fill="#ffffff" stroke="#707070" stroke-width="0.95"/>
<circle cx="595.2" cy="104.2" r="1.55" fill="#ffffff" stroke="#707070" stroke-width="0.95"/>
<circle cx="595.2" cy="117" r="1.55" fill="#ffffff" stroke="#707070" stroke-width="0.95"/>
<circle cx="604.3" cy="83.6" r="1.55" fill="#ffffff" stroke="#707070" stroke-width="0.95"/>
<circle cx="604.3" cy="87.5" r="1.55" fill="#ffffff" stroke="#707070" stroke-width="0.95"/>
<circle cx="604.3" cy="91.4" r="1.55" fill="#ffffff" stroke="#707070" stroke-width="0.95"/>
<circle cx="604.3" cy="95.4" r="1.55" fill="#ffffff" stroke="#707070" stroke-width="0.95"/>
<circle cx="604.3" cy="99.3" r="1.55" fill="#ffffff" stroke="#707070" stroke-width="0.95"/>
<circle cx="604.3" cy="104.2" r="1.55" fill="#ffffff" stroke="#707070" stroke-width="0.95"/>
<circle cx="604.3" cy="108.7" r="1.55" fill="#ffffff" stroke="#707070" stroke-width="0.95"/>
<circle cx="604.3" cy="113" r="1.55" fill="#ffffff" stroke="#707070" stroke-width="0.95"/>
<circle cx="604.3" cy="117" r="1.55" fill="#ffffff" stroke="#707070" stroke-width="0.95"/>
<circle cx="613.7" cy="79.6" r="1.55" fill="#ffffff" stroke="#707070" stroke-width="0.95"/>
<circle cx="613.7" cy="83.6" r="1.55" fill="#ffffff" stroke="#707070" stroke-width="0.95"/>
<circle cx="613.7" cy="87.5" r="1.55" fill="#ffffff" stroke="#707070" stroke-width="0.95"/>
<circle cx="613.7" cy="91.4" r="1.55" fill="#ffffff" stroke="#707070" stroke-width="0.95"/>
<circle cx="613.7" cy="95.4" r="1.55" fill="#ffffff" stroke="#707070" stroke-width="0.95"/>
<circle cx="613.7" cy="99.3" r="1.55" fill="#ffffff" stroke="#707070" stroke-width="0.95"/>
<circle cx="613.7" cy="104.2" r="1.55" fill="#ffffff" stroke="#707070" stroke-width="0.95"/>
<circle cx="613.7" cy="108.7" r="1.55" fill="#ffffff" stroke="#707070" stroke-width="0.95"/>
<circle cx="613.7" cy="121" r="1.55" fill="#ffffff" stroke="#707070" stroke-width="0.95"/>
<circle cx="590.7" cy="91.4" r="1.55" fill="#f0f0f0" stroke="#666666" stroke-width="0.95"/>
<circle cx="590.7" cy="95.7" r="1.55" fill="#f0f0f0" stroke="#666666" stroke-width="0.95"/>
<circle cx="609" cy="91.4" r="1.55" fill="#ffffff" stroke="#707070" stroke-width="0.95"/>
<circle cx="609" cy="95.7" r="1.55" fill="#ffffff" stroke="#707070" stroke-width="0.95"/>
<circle cx="609" cy="99.3" r="1.55" fill="#ffffff" stroke="#707070" stroke-width="0.95"/>
<circle cx="609" cy="117" r="1.55" fill="#ffffff" stroke="#707070" stroke-width="0.95"/>
<line x1="507.5" y1="31" x2="628.6" y2="111.7" stroke="#3c3c3c" stroke-width="0.9"/>
<polyline points="527.4,35.86 529.55,37.6 531.7,39.33 533.85,41.07 536,42.8 538.15,44.53 540.3,46.26 542.45,47.98 544.6,49.71 546.75,51.43 548.9,53.14 551.05,54.86 553.2,56.57 555.35,58.27 557.5,59.97 559.65,61.65 561.8,63.33 563.95,65 566.1,66.66 568.25,68.3 570.4,69.92 572.55,71.51 574.7,73.08 576.85,74.62 579,76.12 581.15,77.58 583.3,79 585.45,80.38 587.6,81.73 589.75,83.04 591.9,84.32 594.05,85.57 596.2,86.81 598.35,88.02 600.5,89.22 602.65,90.41 604.8,91.59 606.95,92.77 609.1,93.93 611.25,95.09 613.4,96.24" fill="none" stroke="#3c3c3c" stroke-width="0.85" stroke-dasharray="5 3"/>
<polyline points="527.4,52.66 529.55,53.79 531.7,54.92 533.85,56.05 536,57.19 538.15,58.32 540.3,59.46 542.45,60.6 544.6,61.74 546.75,62.89 548.9,64.03 551.05,65.19 553.2,66.34 555.35,67.51 557.5,68.67 559.65,69.85 561.8,71.04 563.95,72.23 566.1,73.44 568.25,74.67 570.4,75.92 572.55,77.18 574.7,78.48 576.85,79.81 579,81.18 581.15,82.58 583.3,84.03 585.45,85.51 587.6,87.03 589.75,88.59 591.9,90.17 594.05,91.78 596.2,93.41 598.35,95.06 600.5,96.72 602.65,98.4 604.8,100.09 606.95,101.78 609.1,103.48 611.25,105.19 613.4,106.9" fill="none" stroke="#3c3c3c" stroke-width="0.85" stroke-dasharray="5 3"/>
<rect x="23.8" y="174.5" width="124.8" height="131.1" fill="none" stroke="#9a9a9a" stroke-width="1.1"/>
<line x1="19.3" y1="181.6" x2="23.8" y2="181.6" stroke="#9a9a9a" stroke-width="1"/>
<text x="18.8" y="184.9" text-anchor="end" textLength="9.04" lengthAdjust="spacingAndGlyphs">1.6</text>
<line x1="21.5" y1="197.1" x2="23.8" y2="197.1" stroke="#9a9a9a" stroke-width="1"/>
<line x1="19.3" y1="212.6" x2="23.8" y2="212.6" stroke="#9a9a9a" stroke-width="1"/>
<text x="18.8" y="215.9" text-anchor="end" textLength="9.04" lengthAdjust="spacingAndGlyphs">1.2</text>
<line x1="21.5" y1="228.1" x2="23.8" y2="228.1" stroke="#9a9a9a" stroke-width="1"/>
<line x1="19.3" y1="243.6" x2="23.8" y2="243.6" stroke="#9a9a9a" stroke-width="1"/>
<text x="18.8" y="246.9" text-anchor="end" textLength="5.42" lengthAdjust="spacingAndGlyphs">.8</text>
<line x1="21.5" y1="259.1" x2="23.8" y2="259.1" stroke="#9a9a9a" stroke-width="1"/>
<line x1="19.3" y1="274.6" x2="23.8" y2="274.6" stroke="#9a9a9a" stroke-width="1"/>
<text x="18.8" y="277.9" text-anchor="end" textLength="5.42" lengthAdjust="spacingAndGlyphs">.4</text>
<line x1="21.5" y1="290.1" x2="23.8" y2="290.1" stroke="#9a9a9a" stroke-width="1"/>
<line x1="19.3" y1="305.6" x2="23.8" y2="305.6" stroke="#9a9a9a" stroke-width="1"/>
<text x="18.8" y="308.9" text-anchor="end" textLength="5.42" lengthAdjust="spacingAndGlyphs">.0</text>
<line x1="39.4" y1="305.6" x2="39.4" y2="309.4" stroke="#9a9a9a" stroke-width="1"/>
<text x="39.4" y="317.1" text-anchor="middle" textLength="11.20" lengthAdjust="spacingAndGlyphs">-5.0</text>
<line x1="62.8" y1="305.6" x2="62.8" y2="309.4" stroke="#9a9a9a" stroke-width="1"/>
<text x="62.8" y="317.1" text-anchor="middle" textLength="11.20" lengthAdjust="spacingAndGlyphs">-2.5</text>
<line x1="86.2" y1="305.6" x2="86.2" y2="309.4" stroke="#9a9a9a" stroke-width="1"/>
<text x="86.2" y="317.1" text-anchor="middle" textLength="5.42" lengthAdjust="spacingAndGlyphs">.0</text>
<line x1="109.6" y1="305.6" x2="109.6" y2="309.4" stroke="#9a9a9a" stroke-width="1"/>
<text x="109.6" y="317.1" text-anchor="middle" textLength="9.04" lengthAdjust="spacingAndGlyphs">2.5</text>
<line x1="133" y1="305.6" x2="133" y2="309.4" stroke="#9a9a9a" stroke-width="1"/>
<text x="133" y="317.1" text-anchor="middle" textLength="9.04" lengthAdjust="spacingAndGlyphs">5.0</text>
<text x="86.2" y="328.2" text-anchor="middle" textLength="31.80" lengthAdjust="spacingAndGlyphs">MRD (mm)</text>
<text transform="translate(6.8,240.4) rotate(-90)" text-anchor="middle" textLength="66.4" lengthAdjust="spacingAndGlyphs">Thinnest location (mm)</text>
<text x="32.8" y="184.8" textLength="26.24" lengthAdjust="spacingAndGlyphs">r = -0.539</text>
<text x="32.8" y="192.6" textLength="25.10" lengthAdjust="spacingAndGlyphs">P &lt; 0.001</text>
<circle cx="72.3" cy="182.9" r="1.55" fill="#8c8c8c" stroke="#404040" stroke-width="0.95"/>
<circle cx="72.3" cy="193.7" r="1.55" fill="#8c8c8c" stroke="#404040" stroke-width="0.95"/>
<circle cx="81.5" cy="202.9" r="1.55" fill="#8c8c8c" stroke="#404040" stroke-width="0.95"/>
<circle cx="67.6" cy="206" r="1.55" fill="#8c8c8c" stroke="#404040" stroke-width="0.95"/>
<circle cx="77" cy="208.4" r="1.55" fill="#8c8c8c" stroke="#404040" stroke-width="0.95"/>
<circle cx="77" cy="210.4" r="1.55" fill="#8c8c8c" stroke="#404040" stroke-width="0.95"/>
<circle cx="81.5" cy="210.8" r="1.55" fill="#8c8c8c" stroke="#404040" stroke-width="0.95"/>
<circle cx="72.3" cy="212.3" r="1.55" fill="#8c8c8c" stroke="#404040" stroke-width="0.95"/>
<circle cx="77" cy="215.3" r="1.55" fill="#8c8c8c" stroke="#404040" stroke-width="0.95"/>
<circle cx="77" cy="217.2" r="1.55" fill="#8c8c8c" stroke="#404040" stroke-width="0.95"/>
<circle cx="44.2" cy="213.9" r="1.55" fill="#8c8c8c" stroke="#404040" stroke-width="0.95"/>
<circle cx="77" cy="220.2" r="1.55" fill="#8c8c8c" stroke="#404040" stroke-width="0.95"/>
<circle cx="62.8" cy="220.8" r="1.55" fill="#8c8c8c" stroke="#404040" stroke-width="0.95"/>
<circle cx="62.8" cy="222.7" r="1.55" fill="#8c8c8c" stroke="#404040" stroke-width="0.95"/>
<circle cx="72.3" cy="224.1" r="1.55" fill="#8c8c8c" stroke="#404040" stroke-width="0.95"/>
<circle cx="85.8" cy="222.5" r="1.55" fill="#8c8c8c" stroke="#404040" stroke-width="0.95"/>
<circle cx="77" cy="235.9" r="1.55" fill="#8c8c8c" stroke="#404040" stroke-width="0.95"/>
<circle cx="72.3" cy="238.8" r="1.55" fill="#8c8c8c" stroke="#404040" stroke-width="0.95"/>
<circle cx="85.8" cy="237.9" r="1.55" fill="#8c8c8c" stroke="#404040" stroke-width="0.95"/>
<circle cx="90.9" cy="196" r="1.55" fill="#b4b4b4" stroke="#636363" stroke-width="0.95"/>
<circle cx="104.8" cy="195" r="1.55" fill="#f0f0f0" stroke="#666666" stroke-width="0.95"/>
<circle cx="90.9" cy="211" r="1.55" fill="#b4b4b4" stroke="#636363" stroke-width="0.95"/>
<circle cx="95.4" cy="209.4" r="1.55" fill="#b4b4b4" stroke="#636363" stroke-width="0.95"/>
<circle cx="100.1" cy="214.7" r="1.55" fill="#f0f0f0" stroke="#666666" stroke-width="0.95"/>
<circle cx="90.9" cy="222.5" r="1.55" fill="#b4b4b4" stroke="#636363" stroke-width="0.95"/>
<circle cx="95.4" cy="221.8" r="1.55" fill="#b4b4b4" stroke="#636363" stroke-width="0.95"/>
<circle cx="104.8" cy="223.7" r="1.55" fill="#f0f0f0" stroke="#666666" stroke-width="0.95"/>
<circle cx="95.4" cy="226.7" r="1.55" fill="#b4b4b4" stroke="#636363" stroke-width="0.95"/>
<circle cx="95.4" cy="228.6" r="1.55" fill="#b4b4b4" stroke="#636363" stroke-width="0.95"/>
<circle cx="95.4" cy="230.6" r="1.55" fill="#b4b4b4" stroke="#636363" stroke-width="0.95"/>
<circle cx="100.1" cy="226.5" r="1.55" fill="#f0f0f0" stroke="#666666" stroke-width="0.95"/>
<circle cx="90.9" cy="232" r="1.55" fill="#b4b4b4" stroke="#636363" stroke-width="0.95"/>
<circle cx="123.3" cy="224.5" r="1.55" fill="#ffffff" stroke="#707070" stroke-width="0.95"/>
<circle cx="123.3" cy="228" r="1.55" fill="#ffffff" stroke="#707070" stroke-width="0.95"/>
<circle cx="123.3" cy="232" r="1.55" fill="#ffffff" stroke="#707070" stroke-width="0.95"/>
<circle cx="132.7" cy="229.4" r="1.55" fill="#ffffff" stroke="#707070" stroke-width="0.95"/>
<circle cx="127.8" cy="234.3" r="1.55" fill="#ffffff" stroke="#707070" stroke-width="0.95"/>
<circle cx="100.1" cy="235" r="1.55" fill="#f0f0f0" stroke="#666666" stroke-width="0.95"/>
<circle cx="100.1" cy="237" r="1.55" fill="#f0f0f0" stroke="#666666" stroke-width="0.95"/>
<circle cx="104.8" cy="237.3" r="1.55" fill="#f0f0f0" stroke="#666666" stroke-width="0.95"/>
<circle cx="104.8" cy="239.2" r="1.55" fill="#f0f0f0" stroke="#666666" stroke-width="0.95"/>
<circle cx="114.1" cy="239.2" r="1.55" fill="#ffffff" stroke="#707070" stroke-width="0.95"/>
<circle cx="118.8" cy="239.2" r="1.55" fill="#ffffff" stroke="#707070" stroke-width="0.95"/>
<circle cx="123.3" cy="238.8" r="1.55" fill="#ffffff" stroke="#707070" stroke-width="0.95"/>
<circle cx="81.5" cy="249.8" r="1.55" fill="#8c8c8c" stroke="#404040" stroke-width="0.95"/>
<circle cx="67.6" cy="254.5" r="1.55" fill="#8c8c8c" stroke="#404040" stroke-width="0.95"/>
<circle cx="77" cy="258.2" r="1.55" fill="#8c8c8c" stroke="#404040" stroke-width="0.95"/>
<circle cx="81.5" cy="288.7" r="1.55" fill="#8c8c8c" stroke="#404040" stroke-width="0.95"/>
<circle cx="90.9" cy="242.9" r="1.55" fill="#b4b4b4" stroke="#636363" stroke-width="0.95"/>
<circle cx="90.9" cy="246.2" r="1.55" fill="#b4b4b4" stroke="#636363" stroke-width="0.95"/>
<circle cx="90.9" cy="252.7" r="1.55" fill="#b4b4b4" stroke="#636363" stroke-width="0.95"/>
<circle cx="90.9" cy="258.6" r="1.55" fill="#b4b4b4" stroke="#636363" stroke-width="0.95"/>
<circle cx="90.9" cy="260.6" r="1.55" fill="#b4b4b4" stroke="#636363" stroke-width="0.95"/>
<circle cx="95.4" cy="240" r="1.55" fill="#b4b4b4" stroke="#636363" stroke-width="0.95"/>
<circle cx="95.4" cy="242.3" r="1.55" fill="#b4b4b4" stroke="#636363" stroke-width="0.95"/>
<circle cx="95.4" cy="244.9" r="1.55" fill="#b4b4b4" stroke="#636363" stroke-width="0.95"/>
<circle cx="95.4" cy="247.4" r="1.55" fill="#b4b4b4" stroke="#636363" stroke-width="0.95"/>
<circle cx="95.4" cy="253.7" r="1.55" fill="#b4b4b4" stroke="#636363" stroke-width="0.95"/>
<circle cx="95.4" cy="278.7" r="1.55" fill="#b4b4b4" stroke="#636363" stroke-width="0.95"/>
<circle cx="100.1" cy="242.9" r="1.55" fill="#f0f0f0" stroke="#666666" stroke-width="0.95"/>
<circle cx="100.1" cy="246.8" r="1.55" fill="#f0f0f0" stroke="#666666" stroke-width="0.95"/>
<circle cx="100.1" cy="249.8" r="1.55" fill="#f0f0f0" stroke="#666666" stroke-width="0.95"/>
<circle cx="100.1" cy="252.7" r="1.55" fill="#f0f0f0" stroke="#666666" stroke-width="0.95"/>
<circle cx="100.1" cy="255.7" r="1.55" fill="#f0f0f0" stroke="#666666" stroke-width="0.95"/>
<circle cx="100.1" cy="257.6" r="1.55" fill="#f0f0f0" stroke="#666666" stroke-width="0.95"/>
<circle cx="100.1" cy="266.1" r="1.55" fill="#f0f0f0" stroke="#666666" stroke-width="0.95"/>
<circle cx="100.1" cy="270.4" r="1.55" fill="#f0f0f0" stroke="#666666" stroke-width="0.95"/>
<circle cx="100.1" cy="281.6" r="1.55" fill="#f0f0f0" stroke="#666666" stroke-width="0.95"/>
<circle cx="104.8" cy="242.9" r="1.55" fill="#f0f0f0" stroke="#666666" stroke-width="0.95"/>
<circle cx="104.8" cy="245.9" r="1.55" fill="#f0f0f0" stroke="#666666" stroke-width="0.95"/>
<circle cx="104.8" cy="252.7" r="1.55" fill="#f0f0f0" stroke="#666666" stroke-width="0.95"/>
<circle cx="109.4" cy="261.6" r="1.55" fill="#f0f0f0" stroke="#666666" stroke-width="0.95"/>
<circle cx="109.4" cy="278.7" r="1.55" fill="#f0f0f0" stroke="#666666" stroke-width="0.95"/>
<circle cx="114.1" cy="246.8" r="1.55" fill="#ffffff" stroke="#707070" stroke-width="0.95"/>
<circle cx="114.1" cy="252.7" r="1.55" fill="#ffffff" stroke="#707070" stroke-width="0.95"/>
<circle cx="114.1" cy="259.6" r="1.55" fill="#ffffff" stroke="#707070" stroke-width="0.95"/>
<circle cx="114.1" cy="269.4" r="1.55" fill="#ffffff" stroke="#707070" stroke-width="0.95"/>
<circle cx="114.1" cy="273.3" r="1.55" fill="#ffffff" stroke="#707070" stroke-width="0.95"/>
<circle cx="118.8" cy="246.8" r="1.55" fill="#ffffff" stroke="#707070" stroke-width="0.95"/>
<circle cx="118.8" cy="261.6" r="1.55" fill="#ffffff" stroke="#707070" stroke-width="0.95"/>
<circle cx="118.8" cy="269.4" r="1.55" fill="#ffffff" stroke="#707070" stroke-width="0.95"/>
<circle cx="123.3" cy="244.9" r="1.55" fill="#ffffff" stroke="#707070" stroke-width="0.95"/>
<circle cx="123.3" cy="246.8" r="1.55" fill="#ffffff" stroke="#707070" stroke-width="0.95"/>
<circle cx="123.3" cy="251.7" r="1.55" fill="#ffffff" stroke="#707070" stroke-width="0.95"/>
<circle cx="123.3" cy="257.6" r="1.55" fill="#ffffff" stroke="#707070" stroke-width="0.95"/>
<circle cx="123.3" cy="259.6" r="1.55" fill="#ffffff" stroke="#707070" stroke-width="0.95"/>
<circle cx="123.3" cy="261.6" r="1.55" fill="#ffffff" stroke="#707070" stroke-width="0.95"/>
<circle cx="123.3" cy="264.5" r="1.55" fill="#ffffff" stroke="#707070" stroke-width="0.95"/>
<circle cx="123.3" cy="267.5" r="1.55" fill="#ffffff" stroke="#707070" stroke-width="0.95"/>
<circle cx="123.3" cy="270.4" r="1.55" fill="#ffffff" stroke="#707070" stroke-width="0.95"/>
<circle cx="123.3" cy="274.3" r="1.55" fill="#ffffff" stroke="#707070" stroke-width="0.95"/>
<circle cx="123.3" cy="276.3" r="1.55" fill="#ffffff" stroke="#707070" stroke-width="0.95"/>
<circle cx="123.3" cy="279.2" r="1.55" fill="#ffffff" stroke="#707070" stroke-width="0.95"/>
<circle cx="128" cy="259.6" r="1.55" fill="#ffffff" stroke="#707070" stroke-width="0.95"/>
<circle cx="128" cy="262.5" r="1.55" fill="#ffffff" stroke="#707070" stroke-width="0.95"/>
<circle cx="132.7" cy="242.3" r="1.55" fill="#ffffff" stroke="#707070" stroke-width="0.95"/>
<circle cx="132.7" cy="244.9" r="1.55" fill="#ffffff" stroke="#707070" stroke-width="0.95"/>
<circle cx="132.7" cy="246.8" r="1.55" fill="#ffffff" stroke="#707070" stroke-width="0.95"/>
<circle cx="132.7" cy="254.7" r="1.55" fill="#ffffff" stroke="#707070" stroke-width="0.95"/>
<circle cx="132.7" cy="257.6" r="1.55" fill="#ffffff" stroke="#707070" stroke-width="0.95"/>
<circle cx="132.7" cy="259.2" r="1.55" fill="#ffffff" stroke="#707070" stroke-width="0.95"/>
<circle cx="132.7" cy="275.3" r="1.55" fill="#ffffff" stroke="#707070" stroke-width="0.95"/>
<circle cx="132.7" cy="278.3" r="1.55" fill="#ffffff" stroke="#707070" stroke-width="0.95"/>
<circle cx="132.7" cy="280.8" r="1.55" fill="#ffffff" stroke="#707070" stroke-width="0.95"/>
<circle cx="132.7" cy="294.4" r="1.55" fill="#ffffff" stroke="#707070" stroke-width="0.95"/>
<line x1="23.8" y1="196.9" x2="148.6" y2="269.3" stroke="#3c3c3c" stroke-width="0.9"/>
<polyline points="44.2,199.42 46.41,201.04 48.62,202.67 50.84,204.29 53.05,205.91 55.26,207.53 57.48,209.15 59.69,210.76 61.9,212.38 64.11,213.99 66.33,215.59 68.54,217.2 70.75,218.8 72.96,220.39 75.17,221.98 77.39,223.56 79.6,225.13 81.81,226.69 84.03,228.24 86.24,229.77 88.45,231.28 90.66,232.76 92.88,234.21 95.09,235.63 97.3,237 99.51,238.32 101.72,239.59 103.94,240.82 106.15,242 108.36,243.14 110.57,244.24 112.79,245.31 115,246.36 117.21,247.39 119.42,248.41 121.64,249.41 123.85,250.4 126.06,251.39 128.27,252.36 130.49,253.33 132.7,254.3" fill="none" stroke="#3c3c3c" stroke-width="0.85" stroke-dasharray="5 3"/>
<polyline points="44.2,218.05 46.41,218.99 48.62,219.94 50.84,220.88 53.05,221.83 55.26,222.78 57.48,223.72 59.69,224.68 61.9,225.63 64.11,226.59 66.33,227.55 68.54,228.51 70.75,229.48 72.96,230.45 75.17,231.43 77.39,232.42 79.6,233.41 81.81,234.42 84.03,235.44 86.24,236.48 88.45,237.54 90.66,238.62 92.88,239.73 95.09,240.89 97.3,242.08 99.51,243.33 101.72,244.62 103.94,245.96 106.15,247.35 108.36,248.78 110.57,250.24 112.79,251.74 115,253.25 117.21,254.79 119.42,256.34 121.64,257.91 123.85,259.48 126.06,261.07 128.27,262.66 130.49,264.25 132.7,265.85" fill="none" stroke="#3c3c3c" stroke-width="0.85" stroke-dasharray="5 3"/>
<rect x="181.6" y="174.5" width="126.9" height="131.1" fill="none" stroke="#9a9a9a" stroke-width="1.1"/>
<line x1="177.1" y1="181.3" x2="181.6" y2="181.3" stroke="#9a9a9a" stroke-width="1"/>
<text x="176.6" y="184.6" text-anchor="end" textLength="7.23" lengthAdjust="spacingAndGlyphs">25</text>
<line x1="179.3" y1="193.73" x2="181.6" y2="193.73" stroke="#9a9a9a" stroke-width="1"/>
<line x1="177.1" y1="206.16" x2="181.6" y2="206.16" stroke="#9a9a9a" stroke-width="1"/>
<text x="176.6" y="209.46" text-anchor="end" textLength="7.23" lengthAdjust="spacingAndGlyphs">20</text>
<line x1="179.3" y1="218.59" x2="181.6" y2="218.59" stroke="#9a9a9a" stroke-width="1"/>
<line x1="177.1" y1="231.02" x2="181.6" y2="231.02" stroke="#9a9a9a" stroke-width="1"/>
<text x="176.6" y="234.32" text-anchor="end" textLength="7.23" lengthAdjust="spacingAndGlyphs">15</text>
<line x1="179.3" y1="243.45" x2="181.6" y2="243.45" stroke="#9a9a9a" stroke-width="1"/>
<line x1="177.1" y1="255.88" x2="181.6" y2="255.88" stroke="#9a9a9a" stroke-width="1"/>
<text x="176.6" y="259.18" text-anchor="end" textLength="7.23" lengthAdjust="spacingAndGlyphs">10</text>
<line x1="179.3" y1="268.31" x2="181.6" y2="268.31" stroke="#9a9a9a" stroke-width="1"/>
<line x1="177.1" y1="280.74" x2="181.6" y2="280.74" stroke="#9a9a9a" stroke-width="1"/>
<text x="176.6" y="284.04" text-anchor="end" textLength="3.61" lengthAdjust="spacingAndGlyphs">5</text>
<line x1="179.3" y1="293.17" x2="181.6" y2="293.17" stroke="#9a9a9a" stroke-width="1"/>
<line x1="177.1" y1="305.6" x2="181.6" y2="305.6" stroke="#9a9a9a" stroke-width="1"/>
<text x="176.6" y="308.9" text-anchor="end" textLength="3.61" lengthAdjust="spacingAndGlyphs">0</text>
<line x1="197.46" y1="305.6" x2="197.46" y2="309.4" stroke="#9a9a9a" stroke-width="1"/>
<text x="197.46" y="317.1" text-anchor="middle" textLength="11.20" lengthAdjust="spacingAndGlyphs">-5.0</text>
<line x1="221.26" y1="305.6" x2="221.26" y2="309.4" stroke="#9a9a9a" stroke-width="1"/>
<text x="221.26" y="317.1" text-anchor="middle" textLength="11.20" lengthAdjust="spacingAndGlyphs">-2.5</text>
<line x1="245.05" y1="305.6" x2="245.05" y2="309.4" stroke="#9a9a9a" stroke-width="1"/>
<text x="245.05" y="317.1" text-anchor="middle" textLength="5.42" lengthAdjust="spacingAndGlyphs">.0</text>
<line x1="268.84" y1="305.6" x2="268.84" y2="309.4" stroke="#9a9a9a" stroke-width="1"/>
<text x="268.84" y="317.1" text-anchor="middle" textLength="9.04" lengthAdjust="spacingAndGlyphs">2.5</text>
<line x1="292.64" y1="305.6" x2="292.64" y2="309.4" stroke="#9a9a9a" stroke-width="1"/>
<text x="292.64" y="317.1" text-anchor="middle" textLength="9.04" lengthAdjust="spacingAndGlyphs">5.0</text>
<text x="245.05" y="328.2" text-anchor="middle" textLength="31.80" lengthAdjust="spacingAndGlyphs">MRD (mm)</text>
<text transform="translate(166.7,240.1) rotate(-90)" text-anchor="middle" textLength="89.5" lengthAdjust="spacingAndGlyphs">Apex/Thinnest difference (μm)</text>
<text x="196" y="184.2" textLength="26.24" lengthAdjust="spacingAndGlyphs">r = -0.560</text>
<text x="196" y="192" textLength="25.10" lengthAdjust="spacingAndGlyphs">P &lt; 0.001</text>
<circle cx="230.7" cy="201.1" r="1.55" fill="#8c8c8c" stroke="#404040" stroke-width="0.95"/>
<circle cx="230.7" cy="206" r="1.55" fill="#8c8c8c" stroke="#404040" stroke-width="0.95"/>
<circle cx="235.6" cy="211.4" r="1.55" fill="#8c8c8c" stroke="#404040" stroke-width="0.95"/>
<circle cx="235.6" cy="216.3" r="1.55" fill="#8c8c8c" stroke="#404040" stroke-width="0.95"/>
<circle cx="235.6" cy="226.1" r="1.55" fill="#8c8c8c" stroke="#404040" stroke-width="0.95"/>
<circle cx="235.6" cy="231" r="1.55" fill="#8c8c8c" stroke="#404040" stroke-width="0.95"/>
<circle cx="239.9" cy="231" r="1.55" fill="#8c8c8c" stroke="#404040" stroke-width="0.95"/>
<circle cx="202.2" cy="231" r="1.55" fill="#8c8c8c" stroke="#404040" stroke-width="0.95"/>
<circle cx="226.2" cy="235.9" r="1.55" fill="#8c8c8c" stroke="#404040" stroke-width="0.95"/>
<circle cx="235.6" cy="235.9" r="1.55" fill="#8c8c8c" stroke="#404040" stroke-width="0.95"/>
<circle cx="244.4" cy="235.9" r="1.55" fill="#8c8c8c" stroke="#404040" stroke-width="0.95"/>
<circle cx="239.9" cy="239.8" r="1.55" fill="#8c8c8c" stroke="#404040" stroke-width="0.95"/>
<circle cx="254.4" cy="221.2" r="1.55" fill="#b4b4b4" stroke="#636363" stroke-width="0.95"/>
<circle cx="263.8" cy="226.1" r="1.55" fill="#f0f0f0" stroke="#666666" stroke-width="0.95"/>
<circle cx="249.9" cy="231" r="1.55" fill="#b4b4b4" stroke="#636363" stroke-width="0.95"/>
<circle cx="254.4" cy="235.9" r="1.55" fill="#b4b4b4" stroke="#636363" stroke-width="0.95"/>
<circle cx="249.9" cy="239.8" r="1.55" fill="#b4b4b4" stroke="#636363" stroke-width="0.95"/>
<circle cx="259.1" cy="239.8" r="1.55" fill="#f0f0f0" stroke="#666666" stroke-width="0.95"/>
<circle cx="230.7" cy="245.8" r="1.55" fill="#8c8c8c" stroke="#404040" stroke-width="0.95"/>
<circle cx="221.3" cy="251.2" r="1.55" fill="#8c8c8c" stroke="#404040" stroke-width="0.95"/>
<circle cx="230.7" cy="251.2" r="1.55" fill="#8c8c8c" stroke="#404040" stroke-width="0.95"/>
<circle cx="235.6" cy="251.2" r="1.55" fill="#8c8c8c" stroke="#404040" stroke-width="0.95"/>
<circle cx="235.6" cy="265.9" r="1.55" fill="#8c8c8c" stroke="#404040" stroke-width="0.95"/>
<circle cx="244.8" cy="265.9" r="1.55" fill="#8c8c8c" stroke="#404040" stroke-width="0.95"/>
<circle cx="235.6" cy="270.8" r="1.55" fill="#8c8c8c" stroke="#404040" stroke-width="0.95"/>
<circle cx="226.2" cy="280.8" r="1.55" fill="#8c8c8c" stroke="#404040" stroke-width="0.95"/>
<circle cx="230.7" cy="285.7" r="1.55" fill="#8c8c8c" stroke="#404040" stroke-width="0.95"/>
<circle cx="235.6" cy="285.7" r="1.55" fill="#8c8c8c" stroke="#404040" stroke-width="0.95"/>
<circle cx="239.9" cy="291" r="1.55" fill="#8c8c8c" stroke="#404040" stroke-width="0.95"/>
<circle cx="239.9" cy="300.8" r="1.55" fill="#8c8c8c" stroke="#404040" stroke-width="0.95"/>
<circle cx="254.4" cy="245.8" r="1.55" fill="#b4b4b4" stroke="#636363" stroke-width="0.95"/>
<circle cx="254.4" cy="250.8" r="1.55" fill="#b4b4b4" stroke="#636363" stroke-width="0.95"/>
<circle cx="249.9" cy="255.7" r="1.55" fill="#b4b4b4" stroke="#636363" stroke-width="0.95"/>
<circle cx="254.4" cy="255.7" r="1.55" fill="#b4b4b4" stroke="#636363" stroke-width="0.95"/>
<circle cx="259.1" cy="255.7" r="1.55" fill="#f0f0f0" stroke="#666666" stroke-width="0.95"/>
<circle cx="259.1" cy="260.7" r="1.55" fill="#f0f0f0" stroke="#666666" stroke-width="0.95"/>
<circle cx="282.9" cy="260.7" r="1.55" fill="#ffffff" stroke="#707070" stroke-width="0.95"/>
<circle cx="249.9" cy="265.6" r="1.55" fill="#b4b4b4" stroke="#636363" stroke-width="0.95"/>
<circle cx="254.4" cy="265.6" r="1.55" fill="#b4b4b4" stroke="#636363" stroke-width="0.95"/>
<circle cx="259.1" cy="265.6" r="1.55" fill="#f0f0f0" stroke="#666666" stroke-width="0.95"/>
<circle cx="263.8" cy="265.6" r="1.55" fill="#f0f0f0" stroke="#666666" stroke-width="0.95"/>
<circle cx="249.9" cy="270.6" r="1.55" fill="#b4b4b4" stroke="#636363" stroke-width="0.95"/>
<circle cx="254.4" cy="270.6" r="1.55" fill="#b4b4b4" stroke="#636363" stroke-width="0.95"/>
<circle cx="263.8" cy="270.6" r="1.55" fill="#f0f0f0" stroke="#666666" stroke-width="0.95"/>
<circle cx="282.9" cy="270.6" r="1.55" fill="#ffffff" stroke="#707070" stroke-width="0.95"/>
<circle cx="292.3" cy="270.6" r="1.55" fill="#ffffff" stroke="#707070" stroke-width="0.95"/>
<circle cx="259.1" cy="275.5" r="1.55" fill="#f0f0f0" stroke="#666666" stroke-width="0.95"/>
<circle cx="263.8" cy="275.5" r="1.55" fill="#f0f0f0" stroke="#666666" stroke-width="0.95"/>
<circle cx="273.5" cy="275.5" r="1.55" fill="#ffffff" stroke="#707070" stroke-width="0.95"/>
<circle cx="278.2" cy="275.5" r="1.55" fill="#ffffff" stroke="#707070" stroke-width="0.95"/>
<circle cx="282.9" cy="275.5" r="1.55" fill="#ffffff" stroke="#707070" stroke-width="0.95"/>
<circle cx="292.3" cy="275.5" r="1.55" fill="#ffffff" stroke="#707070" stroke-width="0.95"/>
<circle cx="254.4" cy="280.5" r="1.55" fill="#b4b4b4" stroke="#636363" stroke-width="0.95"/>
<circle cx="259.1" cy="280.5" r="1.55" fill="#f0f0f0" stroke="#666666" stroke-width="0.95"/>
<circle cx="263.8" cy="280.5" r="1.55" fill="#f0f0f0" stroke="#666666" stroke-width="0.95"/>
<circle cx="278.2" cy="280.5" r="1.55" fill="#ffffff" stroke="#707070" stroke-width="0.95"/>
<circle cx="282.9" cy="280.5" r="1.55" fill="#ffffff" stroke="#707070" stroke-width="0.95"/>
<circle cx="292.3" cy="280.5" r="1.55" fill="#ffffff" stroke="#707070" stroke-width="0.95"/>
<circle cx="249.9" cy="285.5" r="1.55" fill="#b4b4b4" stroke="#636363" stroke-width="0.95"/>
<circle cx="254.4" cy="285.5" r="1.55" fill="#b4b4b4" stroke="#636363" stroke-width="0.95"/>
<circle cx="259.1" cy="285.5" r="1.55" fill="#f0f0f0" stroke="#666666" stroke-width="0.95"/>
<circle cx="268.5" cy="285.5" r="1.55" fill="#f0f0f0" stroke="#666666" stroke-width="0.95"/>
<circle cx="273.5" cy="285.5" r="1.55" fill="#ffffff" stroke="#707070" stroke-width="0.95"/>
<circle cx="278.2" cy="285.5" r="1.55" fill="#ffffff" stroke="#707070" stroke-width="0.95"/>
<circle cx="282.9" cy="285.5" r="1.55" fill="#ffffff" stroke="#707070" stroke-width="0.95"/>
<circle cx="287.6" cy="285.5" r="1.55" fill="#ffffff" stroke="#707070" stroke-width="0.95"/>
<circle cx="292.3" cy="285.5" r="1.55" fill="#ffffff" stroke="#707070" stroke-width="0.95"/>
<circle cx="249.9" cy="290.4" r="1.55" fill="#b4b4b4" stroke="#636363" stroke-width="0.95"/>
<circle cx="259.1" cy="290.4" r="1.55" fill="#f0f0f0" stroke="#666666" stroke-width="0.95"/>
<circle cx="263.8" cy="290.4" r="1.55" fill="#f0f0f0" stroke="#666666" stroke-width="0.95"/>
<circle cx="273.5" cy="290.4" r="1.55" fill="#ffffff" stroke="#707070" stroke-width="0.95"/>
<circle cx="278.2" cy="290.4" r="1.55" fill="#ffffff" stroke="#707070" stroke-width="0.95"/>
<circle cx="282.9" cy="290.4" r="1.55" fill="#ffffff" stroke="#707070" stroke-width="0.95"/>
<circle cx="292.3" cy="290.4" r="1.55" fill="#ffffff" stroke="#707070" stroke-width="0.95"/>
<circle cx="259.1" cy="295.4" r="1.55" fill="#f0f0f0" stroke="#666666" stroke-width="0.95"/>
<circle cx="273.5" cy="295.4" r="1.55" fill="#ffffff" stroke="#707070" stroke-width="0.95"/>
<circle cx="282.9" cy="295.4" r="1.55" fill="#ffffff" stroke="#707070" stroke-width="0.95"/>
<circle cx="287.6" cy="295.4" r="1.55" fill="#ffffff" stroke="#707070" stroke-width="0.95"/>
<circle cx="292.3" cy="295.4" r="1.55" fill="#ffffff" stroke="#707070" stroke-width="0.95"/>
<circle cx="254.4" cy="300.3" r="1.55" fill="#b4b4b4" stroke="#636363" stroke-width="0.95"/>
<circle cx="259.1" cy="300.3" r="1.55" fill="#f0f0f0" stroke="#666666" stroke-width="0.95"/>
<circle cx="268.5" cy="300.3" r="1.55" fill="#f0f0f0" stroke="#666666" stroke-width="0.95"/>
<circle cx="273.5" cy="300.3" r="1.55" fill="#ffffff" stroke="#707070" stroke-width="0.95"/>
<circle cx="282.9" cy="300.3" r="1.55" fill="#ffffff" stroke="#707070" stroke-width="0.95"/>
<circle cx="292.3" cy="300.3" r="1.55" fill="#ffffff" stroke="#707070" stroke-width="0.95"/>
<line x1="181.6" y1="217.5" x2="308.5" y2="305.3" stroke="#3c3c3c" stroke-width="0.9"/>
<polyline points="202.2,222.38 204.45,224.28 206.7,226.18 208.96,228.08 211.21,229.98 213.46,231.87 215.72,233.77 217.97,235.66 220.22,237.55 222.47,239.44 224.72,241.32 226.98,243.2 229.23,245.08 231.48,246.95 233.73,248.82 235.99,250.67 238.24,252.52 240.49,254.36 242.75,256.18 245,257.99 247.25,259.78 249.5,261.54 251.75,263.27 254.01,264.96 256.26,266.61 258.51,268.21 260.76,269.76 263.02,271.26 265.27,272.72 267.52,274.13 269.77,275.51 272.03,276.86 274.28,278.18 276.53,279.48 278.78,280.77 281.04,282.05 283.29,283.31 285.54,284.57 287.8,285.82 290.05,287.06 292.3,288.3" fill="none" stroke="#3c3c3c" stroke-width="0.85" stroke-dasharray="5 3"/>
<polyline points="202.2,241.13 204.45,242.34 206.7,243.56 208.96,244.78 211.21,246 213.46,247.22 215.72,248.44 217.97,249.66 220.22,250.89 222.47,252.12 224.72,253.35 226.98,254.59 229.23,255.83 231.48,257.07 233.73,258.33 235.99,259.59 238.24,260.85 240.49,262.13 242.75,263.43 245,264.74 247.25,266.07 249.5,267.42 251.75,268.81 254.01,270.23 256.26,271.7 258.51,273.22 260.76,274.78 263.02,276.4 265.27,278.06 267.52,279.77 269.77,281.51 272.03,283.28 274.28,285.07 276.53,286.88 278.78,288.71 281.04,290.55 283.29,292.4 285.54,294.26 287.8,296.13 290.05,298 292.3,299.88" fill="none" stroke="#3c3c3c" stroke-width="0.85" stroke-dasharray="5 3"/>
<rect x="344.3" y="174.5" width="122.7" height="131.1" fill="none" stroke="#9a9a9a" stroke-width="1.1"/>
<line x1="339.8" y1="181.3" x2="344.3" y2="181.3" stroke="#9a9a9a" stroke-width="1"/>
<text x="339.3" y="184.6" text-anchor="end" textLength="10.84" lengthAdjust="spacingAndGlyphs">700</text>
<line x1="342" y1="193.73" x2="344.3" y2="193.73" stroke="#9a9a9a" stroke-width="1"/>
<line x1="339.8" y1="206.16" x2="344.3" y2="206.16" stroke="#9a9a9a" stroke-width="1"/>
<text x="339.3" y="209.46" text-anchor="end" textLength="10.84" lengthAdjust="spacingAndGlyphs">600</text>
<line x1="342" y1="218.59" x2="344.3" y2="218.59" stroke="#9a9a9a" stroke-width="1"/>
<line x1="339.8" y1="231.02" x2="344.3" y2="231.02" stroke="#9a9a9a" stroke-width="1"/>
<text x="339.3" y="234.32" text-anchor="end" textLength="10.84" lengthAdjust="spacingAndGlyphs">500</text>
<line x1="342" y1="243.45" x2="344.3" y2="243.45" stroke="#9a9a9a" stroke-width="1"/>
<line x1="339.8" y1="255.88" x2="344.3" y2="255.88" stroke="#9a9a9a" stroke-width="1"/>
<text x="339.3" y="259.18" text-anchor="end" textLength="10.84" lengthAdjust="spacingAndGlyphs">400</text>
<line x1="342" y1="268.31" x2="344.3" y2="268.31" stroke="#9a9a9a" stroke-width="1"/>
<line x1="339.8" y1="280.74" x2="344.3" y2="280.74" stroke="#9a9a9a" stroke-width="1"/>
<text x="339.3" y="284.04" text-anchor="end" textLength="10.84" lengthAdjust="spacingAndGlyphs">300</text>
<line x1="342" y1="293.17" x2="344.3" y2="293.17" stroke="#9a9a9a" stroke-width="1"/>
<line x1="339.8" y1="305.6" x2="344.3" y2="305.6" stroke="#9a9a9a" stroke-width="1"/>
<text x="339.3" y="308.9" text-anchor="end" textLength="10.84" lengthAdjust="spacingAndGlyphs">200</text>
<line x1="359.64" y1="305.6" x2="359.64" y2="309.4" stroke="#9a9a9a" stroke-width="1"/>
<text x="359.64" y="317.1" text-anchor="middle" textLength="11.20" lengthAdjust="spacingAndGlyphs">-5.0</text>
<line x1="382.64" y1="305.6" x2="382.64" y2="309.4" stroke="#9a9a9a" stroke-width="1"/>
<text x="382.64" y="317.1" text-anchor="middle" textLength="11.20" lengthAdjust="spacingAndGlyphs">-2.5</text>
<line x1="405.65" y1="305.6" x2="405.65" y2="309.4" stroke="#9a9a9a" stroke-width="1"/>
<text x="405.65" y="317.1" text-anchor="middle" textLength="5.42" lengthAdjust="spacingAndGlyphs">.0</text>
<line x1="428.66" y1="305.6" x2="428.66" y2="309.4" stroke="#9a9a9a" stroke-width="1"/>
<text x="428.66" y="317.1" text-anchor="middle" textLength="9.04" lengthAdjust="spacingAndGlyphs">2.5</text>
<line x1="451.66" y1="305.6" x2="451.66" y2="309.4" stroke="#9a9a9a" stroke-width="1"/>
<text x="451.66" y="317.1" text-anchor="middle" textLength="9.04" lengthAdjust="spacingAndGlyphs">5.0</text>
<text x="405.65" y="328.2" text-anchor="middle" textLength="31.80" lengthAdjust="spacingAndGlyphs">MRD (mm)</text>
<text transform="translate(325.5,240.4) rotate(-90)" text-anchor="middle" textLength="58.6" lengthAdjust="spacingAndGlyphs">Maximum ART (μm)</text>
<text x="354.8" y="184.8" textLength="24.24" lengthAdjust="spacingAndGlyphs">r = 0.361</text>
<text x="354.8" y="192.6" textLength="25.10" lengthAdjust="spacingAndGlyphs">P &lt; 0.001</text>
<circle cx="391.7" cy="222.2" r="1.55" fill="#8c8c8c" stroke="#404040" stroke-width="0.95"/>
<circle cx="401" cy="220.6" r="1.55" fill="#8c8c8c" stroke="#404040" stroke-width="0.95"/>
<circle cx="401" cy="224.7" r="1.55" fill="#8c8c8c" stroke="#404040" stroke-width="0.95"/>
<circle cx="387.2" cy="230.6" r="1.55" fill="#8c8c8c" stroke="#404040" stroke-width="0.95"/>
<circle cx="396" cy="240.4" r="1.55" fill="#8c8c8c" stroke="#404040" stroke-width="0.95"/>
<circle cx="419.5" cy="188.2" r="1.55" fill="#f0f0f0" stroke="#666666" stroke-width="0.95"/>
<circle cx="433.2" cy="187.4" r="1.55" fill="#ffffff" stroke="#707070" stroke-width="0.95"/>
<circle cx="442.5" cy="191.3" r="1.55" fill="#ffffff" stroke="#707070" stroke-width="0.95"/>
<circle cx="447" cy="201" r="1.55" fill="#ffffff" stroke="#707070" stroke-width="0.95"/>
<circle cx="410.3" cy="205.9" r="1.55" fill="#b4b4b4" stroke="#636363" stroke-width="0.95"/>
<circle cx="424.2" cy="207.4" r="1.55" fill="#f0f0f0" stroke="#666666" stroke-width="0.95"/>
<circle cx="442.5" cy="207" r="1.55" fill="#ffffff" stroke="#707070" stroke-width="0.95"/>
<circle cx="433.2" cy="211.3" r="1.55" fill="#ffffff" stroke="#707070" stroke-width="0.95"/>
<circle cx="451.7" cy="211" r="1.55" fill="#ffffff" stroke="#707070" stroke-width="0.95"/>
<circle cx="442.5" cy="214.7" r="1.55" fill="#ffffff" stroke="#707070" stroke-width="0.95"/>
<circle cx="442.5" cy="216.7" r="1.55" fill="#ffffff" stroke="#707070" stroke-width="0.95"/>
<circle cx="442.5" cy="219.6" r="1.55" fill="#ffffff" stroke="#707070" stroke-width="0.95"/>
<circle cx="414.8" cy="216.7" r="1.55" fill="#b4b4b4" stroke="#636363" stroke-width="0.95"/>
<circle cx="438" cy="222.7" r="1.55" fill="#ffffff" stroke="#707070" stroke-width="0.95"/>
<circle cx="451.7" cy="222.2" r="1.55" fill="#ffffff" stroke="#707070" stroke-width="0.95"/>
<circle cx="451.7" cy="224.7" r="1.55" fill="#ffffff" stroke="#707070" stroke-width="0.95"/>
<circle cx="451.7" cy="226.7" r="1.55" fill="#ffffff" stroke="#707070" stroke-width="0.95"/>
<circle cx="414.8" cy="226.1" r="1.55" fill="#b4b4b4" stroke="#636363" stroke-width="0.95"/>
<circle cx="442.5" cy="227.6" r="1.55" fill="#ffffff" stroke="#707070" stroke-width="0.95"/>
<circle cx="410.3" cy="233" r="1.55" fill="#b4b4b4" stroke="#636363" stroke-width="0.95"/>
<circle cx="410.3" cy="234.9" r="1.55" fill="#b4b4b4" stroke="#636363" stroke-width="0.95"/>
<circle cx="410.3" cy="236.9" r="1.55" fill="#b4b4b4" stroke="#636363" stroke-width="0.95"/>
<circle cx="419.5" cy="234.3" r="1.55" fill="#f0f0f0" stroke="#666666" stroke-width="0.95"/>
<circle cx="428.7" cy="234.9" r="1.55" fill="#f0f0f0" stroke="#666666" stroke-width="0.95"/>
<circle cx="433.2" cy="235.9" r="1.55" fill="#ffffff" stroke="#707070" stroke-width="0.95"/>
<circle cx="442.5" cy="234.9" r="1.55" fill="#ffffff" stroke="#707070" stroke-width="0.95"/>
<circle cx="442.5" cy="238.5" r="1.55" fill="#ffffff" stroke="#707070" stroke-width="0.95"/>
<circle cx="447" cy="233" r="1.55" fill="#ffffff" stroke="#707070" stroke-width="0.95"/>
<circle cx="451.7" cy="233" r="1.55" fill="#ffffff" stroke="#707070" stroke-width="0.95"/>
<circle cx="451.7" cy="234.9" r="1.55" fill="#ffffff" stroke="#707070" stroke-width="0.95"/>
<circle cx="451.7" cy="238.8" r="1.55" fill="#ffffff" stroke="#707070" stroke-width="0.95"/>
<circle cx="414.8" cy="237.9" r="1.55" fill="#b4b4b4" stroke="#636363" stroke-width="0.95"/>
<circle cx="419.5" cy="240.4" r="1.55" fill="#f0f0f0" stroke="#666666" stroke-width="0.95"/>
<circle cx="396" cy="241.5" r="1.55" fill="#8c8c8c" stroke="#404040" stroke-width="0.95"/>
<circle cx="396" cy="247.8" r="1.55" fill="#8c8c8c" stroke="#404040" stroke-width="0.95"/>
<circle cx="382.5" cy="257.6" r="1.55" fill="#8c8c8c" stroke="#404040" stroke-width="0.95"/>
<circle cx="391.7" cy="260.2" r="1.55" fill="#8c8c8c" stroke="#404040" stroke-width="0.95"/>
<circle cx="396" cy="257" r="1.55" fill="#8c8c8c" stroke="#404040" stroke-width="0.95"/>
<circle cx="401" cy="263.1" r="1.55" fill="#8c8c8c" stroke="#404040" stroke-width="0.95"/>
<circle cx="405.5" cy="262" r="1.55" fill="#8c8c8c" stroke="#404040" stroke-width="0.95"/>
<circle cx="391.7" cy="269.4" r="1.55" fill="#8c8c8c" stroke="#404040" stroke-width="0.95"/>
<circle cx="391.7" cy="273.4" r="1.55" fill="#8c8c8c" stroke="#404040" stroke-width="0.95"/>
<circle cx="396" cy="268" r="1.55" fill="#8c8c8c" stroke="#404040" stroke-width="0.95"/>
<circle cx="396" cy="274.3" r="1.55" fill="#8c8c8c" stroke="#404040" stroke-width="0.95"/>
<circle cx="396" cy="276.3" r="1.55" fill="#8c8c8c" stroke="#404040" stroke-width="0.95"/>
<circle cx="405.5" cy="272.6" r="1.55" fill="#8c8c8c" stroke="#404040" stroke-width="0.95"/>
<circle cx="387.2" cy="282.2" r="1.55" fill="#8c8c8c" stroke="#404040" stroke-width="0.95"/>
<circle cx="391.7" cy="284.2" r="1.55" fill="#8c8c8c" stroke="#404040" stroke-width="0.95"/>
<circle cx="396" cy="281.2" r="1.55" fill="#8c8c8c" stroke="#404040" stroke-width="0.95"/>
<circle cx="401" cy="279.8" r="1.55" fill="#8c8c8c" stroke="#404040" stroke-width="0.95"/>
<circle cx="364.2" cy="290.6" r="1.55" fill="#8c8c8c" stroke="#404040" stroke-width="0.95"/>
<circle cx="382.5" cy="290" r="1.55" fill="#8c8c8c" stroke="#404040" stroke-width="0.95"/>
<circle cx="410.3" cy="239" r="1.55" fill="#b4b4b4" stroke="#636363" stroke-width="0.95"/>
<circle cx="410.3" cy="242.9" r="1.55" fill="#b4b4b4" stroke="#636363" stroke-width="0.95"/>
<circle cx="410.3" cy="249.8" r="1.55" fill="#b4b4b4" stroke="#636363" stroke-width="0.95"/>
<circle cx="410.3" cy="256.7" r="1.55" fill="#b4b4b4" stroke="#636363" stroke-width="0.95"/>
<circle cx="410.3" cy="264.5" r="1.55" fill="#b4b4b4" stroke="#636363" stroke-width="0.95"/>
<circle cx="410.3" cy="278.3" r="1.55" fill="#b4b4b4" stroke="#636363" stroke-width="0.95"/>
<circle cx="410.3" cy="280.2" r="1.55" fill="#b4b4b4" stroke="#636363" stroke-width="0.95"/>
<circle cx="414.8" cy="240.9" r="1.55" fill="#b4b4b4" stroke="#636363" stroke-width="0.95"/>
<circle cx="414.8" cy="242.9" r="1.55" fill="#b4b4b4" stroke="#636363" stroke-width="0.95"/>
<circle cx="414.8" cy="245.9" r="1.55" fill="#b4b4b4" stroke="#636363" stroke-width="0.95"/>
<circle cx="414.8" cy="248.8" r="1.55" fill="#b4b4b4" stroke="#636363" stroke-width="0.95"/>
<circle cx="414.8" cy="250.8" r="1.55" fill="#b4b4b4" stroke="#636363" stroke-width="0.95"/>
<circle cx="414.8" cy="263.1" r="1.55" fill="#b4b4b4" stroke="#636363" stroke-width="0.95"/>
<circle cx="414.8" cy="282.8" r="1.55" fill="#b4b4b4" stroke="#636363" stroke-width="0.95"/>
<circle cx="414.8" cy="290.6" r="1.55" fill="#b4b4b4" stroke="#636363" stroke-width="0.95"/>
<circle cx="419.5" cy="246.8" r="1.55" fill="#f0f0f0" stroke="#666666" stroke-width="0.95"/>
<circle cx="419.5" cy="254.7" r="1.55" fill="#f0f0f0" stroke="#666666" stroke-width="0.95"/>
<circle cx="419.5" cy="260" r="1.55" fill="#f0f0f0" stroke="#666666" stroke-width="0.95"/>
<circle cx="419.5" cy="268.4" r="1.55" fill="#f0f0f0" stroke="#666666" stroke-width="0.95"/>
<circle cx="419.5" cy="279.2" r="1.55" fill="#f0f0f0" stroke="#666666" stroke-width="0.95"/>
<circle cx="424.2" cy="243.9" r="1.55" fill="#f0f0f0" stroke="#666666" stroke-width="0.95"/>
<circle cx="424.2" cy="251.7" r="1.55" fill="#f0f0f0" stroke="#666666" stroke-width="0.95"/>
<circle cx="424.2" cy="260.6" r="1.55" fill="#f0f0f0" stroke="#666666" stroke-width="0.95"/>
<circle cx="424.2" cy="262.5" r="1.55" fill="#f0f0f0" stroke="#666666" stroke-width="0.95"/>
<circle cx="428.7" cy="262.5" r="1.55" fill="#f0f0f0" stroke="#666666" stroke-width="0.95"/>
<circle cx="433.2" cy="245.9" r="1.55" fill="#ffffff" stroke="#707070" stroke-width="0.95"/>
<circle cx="433.2" cy="252.7" r="1.55" fill="#ffffff" stroke="#707070" stroke-width="0.95"/>
<circle cx="433.2" cy="263.1" r="1.55" fill="#ffffff" stroke="#707070" stroke-width="0.95"/>
<circle cx="433.2" cy="267.9" r="1.55" fill="#ffffff" stroke="#707070" stroke-width="0.95"/>
<circle cx="438" cy="244.9" r="1.55" fill="#ffffff" stroke="#707070" stroke-width="0.95"/>
<circle cx="438" cy="255.7" r="1.55" fill="#ffffff" stroke="#707070" stroke-width="0.95"/>
<circle cx="438" cy="263.1" r="1.55" fill="#ffffff" stroke="#707070" stroke-width="0.95"/>
<circle cx="442.5" cy="242.9" r="1.55" fill="#ffffff" stroke="#707070" stroke-width="0.95"/>
<circle cx="442.5" cy="246.8" r="1.55" fill="#ffffff" stroke="#707070" stroke-width="0.95"/>
<circle cx="442.5" cy="252.7" r="1.55" fill="#ffffff" stroke="#707070" stroke-width="0.95"/>
<circle cx="442.5" cy="254.7" r="1.55" fill="#ffffff" stroke="#707070" stroke-width="0.95"/>
<circle cx="442.5" cy="256.7" r="1.55" fill="#ffffff" stroke="#707070" stroke-width="0.95"/>
<circle cx="442.5" cy="262.5" r="1.55" fill="#ffffff" stroke="#707070" stroke-width="0.95"/>
<circle cx="442.5" cy="265.1" r="1.55" fill="#ffffff" stroke="#707070" stroke-width="0.95"/>
<circle cx="447" cy="244.9" r="1.55" fill="#ffffff" stroke="#707070" stroke-width="0.95"/>
<circle cx="451.7" cy="244.9" r="1.55" fill="#ffffff" stroke="#707070" stroke-width="0.95"/>
<circle cx="451.7" cy="247.8" r="1.55" fill="#ffffff" stroke="#707070" stroke-width="0.95"/>
<circle cx="451.7" cy="250.8" r="1.55" fill="#ffffff" stroke="#707070" stroke-width="0.95"/>
<circle cx="451.7" cy="254.7" r="1.55" fill="#ffffff" stroke="#707070" stroke-width="0.95"/>
<circle cx="451.7" cy="256.7" r="1.55" fill="#ffffff" stroke="#707070" stroke-width="0.95"/>
<circle cx="451.7" cy="259.2" r="1.55" fill="#ffffff" stroke="#707070" stroke-width="0.95"/>
<circle cx="451.7" cy="270.4" r="1.55" fill="#ffffff" stroke="#707070" stroke-width="0.95"/>
<line x1="344.3" y1="279.6" x2="467" y2="230.4" stroke="#3c3c3c" stroke-width="0.9"/>
<polyline points="364.2,261.24 366.39,260.75 368.57,260.26 370.76,259.77 372.95,259.27 375.14,258.78 377.32,258.28 379.51,257.78 381.7,257.28 383.89,256.78 386.07,256.27 388.26,255.76 390.45,255.25 392.64,254.73 394.82,254.21 397.01,253.67 399.2,253.13 401.39,252.58 403.57,252.01 405.76,251.43 407.95,250.82 410.14,250.18 412.32,249.51 414.51,248.79 416.7,248.02 418.89,247.19 421.07,246.3 423.26,245.34 425.45,244.33 427.64,243.27 429.82,242.16 432.01,241.03 434.2,239.87 436.39,238.69 438.57,237.5 440.76,236.29 442.95,235.07 445.14,233.85 447.32,232.61 449.51,231.38 451.7,230.13" fill="none" stroke="#3c3c3c" stroke-width="0.85" stroke-dasharray="5 3"/>
<polyline points="364.2,282 366.39,280.74 368.57,279.47 370.76,278.21 372.95,276.95 375.14,275.69 377.32,274.43 379.51,273.18 381.7,271.92 383.89,270.67 386.07,269.42 388.26,268.18 390.45,266.94 392.64,265.7 394.82,264.47 397.01,263.25 399.2,262.04 401.39,260.84 403.57,259.65 405.76,258.48 407.95,257.34 410.14,256.22 412.32,255.14 414.51,254.1 416.7,253.12 418.89,252.19 421.07,251.33 423.26,250.54 425.45,249.79 427.64,249.1 429.82,248.45 432.01,247.83 434.2,247.23 436.39,246.66 438.57,246.1 440.76,245.55 442.95,245.02 445.14,244.49 447.32,243.97 449.51,243.45 451.7,242.94" fill="none" stroke="#3c3c3c" stroke-width="0.85" stroke-dasharray="5 3"/>
<rect x="506.5" y="174.5" width="122.1" height="131.1" fill="none" stroke="#9a9a9a" stroke-width="1.1"/>
<line x1="502" y1="181.3" x2="506.5" y2="181.3" stroke="#9a9a9a" stroke-width="1"/>
<text x="501.5" y="184.6" text-anchor="end" textLength="9.04" lengthAdjust="spacingAndGlyphs">4.0</text>
<line x1="504.2" y1="193.73" x2="506.5" y2="193.73" stroke="#9a9a9a" stroke-width="1"/>
<line x1="502" y1="206.16" x2="506.5" y2="206.16" stroke="#9a9a9a" stroke-width="1"/>
<text x="501.5" y="209.46" text-anchor="end" textLength="9.04" lengthAdjust="spacingAndGlyphs">3.0</text>
<line x1="504.2" y1="218.59" x2="506.5" y2="218.59" stroke="#9a9a9a" stroke-width="1"/>
<line x1="502" y1="231.02" x2="506.5" y2="231.02" stroke="#9a9a9a" stroke-width="1"/>
<text x="501.5" y="234.32" text-anchor="end" textLength="9.04" lengthAdjust="spacingAndGlyphs">2.0</text>
<line x1="504.2" y1="243.45" x2="506.5" y2="243.45" stroke="#9a9a9a" stroke-width="1"/>
<line x1="502" y1="255.88" x2="506.5" y2="255.88" stroke="#9a9a9a" stroke-width="1"/>
<text x="501.5" y="259.18" text-anchor="end" textLength="9.04" lengthAdjust="spacingAndGlyphs">1.0</text>
<line x1="504.2" y1="268.31" x2="506.5" y2="268.31" stroke="#9a9a9a" stroke-width="1"/>
<line x1="502" y1="280.74" x2="506.5" y2="280.74" stroke="#9a9a9a" stroke-width="1"/>
<text x="501.5" y="284.04" text-anchor="end" textLength="5.42" lengthAdjust="spacingAndGlyphs">.0</text>
<line x1="504.2" y1="293.17" x2="506.5" y2="293.17" stroke="#9a9a9a" stroke-width="1"/>
<line x1="502" y1="305.6" x2="506.5" y2="305.6" stroke="#9a9a9a" stroke-width="1"/>
<text x="501.5" y="308.9" text-anchor="end" textLength="11.20" lengthAdjust="spacingAndGlyphs">-1.0</text>
<line x1="521.76" y1="305.6" x2="521.76" y2="309.4" stroke="#9a9a9a" stroke-width="1"/>
<text x="521.76" y="317.1" text-anchor="middle" textLength="11.20" lengthAdjust="spacingAndGlyphs">-5.0</text>
<line x1="544.66" y1="305.6" x2="544.66" y2="309.4" stroke="#9a9a9a" stroke-width="1"/>
<text x="544.66" y="317.1" text-anchor="middle" textLength="11.20" lengthAdjust="spacingAndGlyphs">-2.5</text>
<line x1="567.55" y1="305.6" x2="567.55" y2="309.4" stroke="#9a9a9a" stroke-width="1"/>
<text x="567.55" y="317.1" text-anchor="middle" textLength="5.42" lengthAdjust="spacingAndGlyphs">.0</text>
<line x1="590.44" y1="305.6" x2="590.44" y2="309.4" stroke="#9a9a9a" stroke-width="1"/>
<text x="590.44" y="317.1" text-anchor="middle" textLength="9.04" lengthAdjust="spacingAndGlyphs">2.5</text>
<line x1="613.34" y1="305.6" x2="613.34" y2="309.4" stroke="#9a9a9a" stroke-width="1"/>
<text x="613.34" y="317.1" text-anchor="middle" textLength="9.04" lengthAdjust="spacingAndGlyphs">5.0</text>
<text x="567.55" y="328.2" text-anchor="middle" textLength="31.80" lengthAdjust="spacingAndGlyphs">MRD (mm)</text>
<text transform="translate(486.6,240.5) rotate(-90)" text-anchor="middle" textLength="19.5" lengthAdjust="spacingAndGlyphs">Final D</text>
<text x="526.2" y="184.8" textLength="26.24" lengthAdjust="spacingAndGlyphs">r = -0.584</text>
<text x="526.2" y="192.6" textLength="25.10" lengthAdjust="spacingAndGlyphs">P &lt; 0.001</text>
<circle cx="553.5" cy="197.6" r="1.55" fill="#8c8c8c" stroke="#404040" stroke-width="0.95"/>
<circle cx="525.8" cy="204.9" r="1.55" fill="#8c8c8c" stroke="#404040" stroke-width="0.95"/>
<circle cx="544.3" cy="204.5" r="1.55" fill="#8c8c8c" stroke="#404040" stroke-width="0.95"/>
<circle cx="558" cy="208" r="1.55" fill="#8c8c8c" stroke="#404040" stroke-width="0.95"/>
<circle cx="567.3" cy="212" r="1.55" fill="#8c8c8c" stroke="#404040" stroke-width="0.95"/>
<circle cx="553.5" cy="214.7" r="1.55" fill="#8c8c8c" stroke="#404040" stroke-width="0.95"/>
<circle cx="558" cy="214.3" r="1.55" fill="#8c8c8c" stroke="#404040" stroke-width="0.95"/>
<circle cx="562.6" cy="214.3" r="1.55" fill="#8c8c8c" stroke="#404040" stroke-width="0.95"/>
<circle cx="558" cy="221.6" r="1.55" fill="#8c8c8c" stroke="#404040" stroke-width="0.95"/>
<circle cx="558" cy="228" r="1.55" fill="#8c8c8c" stroke="#404040" stroke-width="0.95"/>
<circle cx="562.6" cy="229.4" r="1.55" fill="#8c8c8c" stroke="#404040" stroke-width="0.95"/>
<circle cx="553.5" cy="231.4" r="1.55" fill="#8c8c8c" stroke="#404040" stroke-width="0.95"/>
<circle cx="548.8" cy="232.6" r="1.55" fill="#8c8c8c" stroke="#404040" stroke-width="0.95"/>
<circle cx="558" cy="233.3" r="1.55" fill="#8c8c8c" stroke="#404040" stroke-width="0.95"/>
<circle cx="558" cy="234.9" r="1.55" fill="#8c8c8c" stroke="#404040" stroke-width="0.95"/>
<circle cx="558" cy="237.9" r="1.55" fill="#8c8c8c" stroke="#404040" stroke-width="0.95"/>
<circle cx="548.8" cy="239.8" r="1.55" fill="#8c8c8c" stroke="#404040" stroke-width="0.95"/>
<circle cx="553.5" cy="239.8" r="1.55" fill="#8c8c8c" stroke="#404040" stroke-width="0.95"/>
<circle cx="576.8" cy="208.4" r="1.55" fill="#b4b4b4" stroke="#636363" stroke-width="0.95"/>
<circle cx="581.1" cy="219.6" r="1.55" fill="#f0f0f0" stroke="#666666" stroke-width="0.95"/>
<circle cx="581.1" cy="228" r="1.55" fill="#f0f0f0" stroke="#666666" stroke-width="0.95"/>
<circle cx="581.1" cy="231" r="1.55" fill="#f0f0f0" stroke="#666666" stroke-width="0.95"/>
<circle cx="585.6" cy="233.3" r="1.55" fill="#f0f0f0" stroke="#666666" stroke-width="0.95"/>
<circle cx="585.6" cy="235.9" r="1.55" fill="#f0f0f0" stroke="#666666" stroke-width="0.95"/>
<circle cx="613.1" cy="237.9" r="1.55" fill="#ffffff" stroke="#707070" stroke-width="0.95"/>
<circle cx="558" cy="242.3" r="1.55" fill="#8c8c8c" stroke="#404040" stroke-width="0.95"/>
<circle cx="562.6" cy="250.2" r="1.55" fill="#8c8c8c" stroke="#404040" stroke-width="0.95"/>
<circle cx="567.3" cy="255.3" r="1.55" fill="#8c8c8c" stroke="#404040" stroke-width="0.95"/>
<circle cx="544.5" cy="256.3" r="1.55" fill="#8c8c8c" stroke="#404040" stroke-width="0.95"/>
<circle cx="562.6" cy="258.6" r="1.55" fill="#8c8c8c" stroke="#404040" stroke-width="0.95"/>
<circle cx="553.5" cy="264.7" r="1.55" fill="#8c8c8c" stroke="#404040" stroke-width="0.95"/>
<circle cx="572.3" cy="228.6" r="1.55" fill="#b4b4b4" stroke="#636363" stroke-width="0.95"/>
<circle cx="572.3" cy="231" r="1.55" fill="#b4b4b4" stroke="#636363" stroke-width="0.95"/>
<circle cx="572.3" cy="233.3" r="1.55" fill="#b4b4b4" stroke="#636363" stroke-width="0.95"/>
<circle cx="572.3" cy="235.9" r="1.55" fill="#b4b4b4" stroke="#636363" stroke-width="0.95"/>
<circle cx="572.3" cy="238.5" r="1.55" fill="#b4b4b4" stroke="#636363" stroke-width="0.95"/>
<circle cx="576.8" cy="228.6" r="1.55" fill="#b4b4b4" stroke="#636363" stroke-width="0.95"/>
<circle cx="576.8" cy="231" r="1.55" fill="#b4b4b4" stroke="#636363" stroke-width="0.95"/>
<circle cx="576.8" cy="233.9" r="1.55" fill="#b4b4b4" stroke="#636363" stroke-width="0.95"/>
<circle cx="576.8" cy="238.8" r="1.55" fill="#b4b4b4" stroke="#636363" stroke-width="0.95"/>
<circle cx="572.3" cy="243.9" r="1.55" fill="#b4b4b4" stroke="#636363" stroke-width="0.95"/>
<circle cx="572.3" cy="252.1" r="1.55" fill="#b4b4b4" stroke="#636363" stroke-width="0.95"/>
<circle cx="572.3" cy="254.7" r="1.55" fill="#b4b4b4" stroke="#636363" stroke-width="0.95"/>
<circle cx="572.3" cy="257.6" r="1.55" fill="#b4b4b4" stroke="#636363" stroke-width="0.95"/>
<circle cx="572.3" cy="260" r="1.55" fill="#b4b4b4" stroke="#636363" stroke-width="0.95"/>
<circle cx="572.3" cy="264.5" r="1.55" fill="#b4b4b4" stroke="#636363" stroke-width="0.95"/>
<circle cx="572.3" cy="267.9" r="1.55" fill="#b4b4b4" stroke="#636363" stroke-width="0.95"/>
<circle cx="576.8" cy="243.9" r="1.55" fill="#b4b4b4" stroke="#636363" stroke-width="0.95"/>
<circle cx="576.8" cy="245.9" r="1.55" fill="#b4b4b4" stroke="#636363" stroke-width="0.95"/>
<circle cx="576.8" cy="253.7" r="1.55" fill="#b4b4b4" stroke="#636363" stroke-width="0.95"/>
<circle cx="576.8" cy="256.7" r="1.55" fill="#b4b4b4" stroke="#636363" stroke-width="0.95"/>
<circle cx="576.8" cy="259.6" r="1.55" fill="#b4b4b4" stroke="#636363" stroke-width="0.95"/>
<circle cx="581.1" cy="241.9" r="1.55" fill="#f0f0f0" stroke="#666666" stroke-width="0.95"/>
<circle cx="581.1" cy="246.8" r="1.55" fill="#f0f0f0" stroke="#666666" stroke-width="0.95"/>
<circle cx="581.1" cy="252.7" r="1.55" fill="#f0f0f0" stroke="#666666" stroke-width="0.95"/>
<circle cx="581.1" cy="257.6" r="1.55" fill="#f0f0f0" stroke="#666666" stroke-width="0.95"/>
<circle cx="581.1" cy="260.6" r="1.55" fill="#f0f0f0" stroke="#666666" stroke-width="0.95"/>
<circle cx="581.1" cy="265.1" r="1.55" fill="#f0f0f0" stroke="#666666" stroke-width="0.95"/>
<circle cx="581.1" cy="295.9" r="1.55" fill="#f0f0f0" stroke="#666666" stroke-width="0.95"/>
<circle cx="585.6" cy="249.8" r="1.55" fill="#f0f0f0" stroke="#666666" stroke-width="0.95"/>
<circle cx="585.6" cy="261.6" r="1.55" fill="#f0f0f0" stroke="#666666" stroke-width="0.95"/>
<circle cx="585.6" cy="274.9" r="1.55" fill="#f0f0f0" stroke="#666666" stroke-width="0.95"/>
<circle cx="590.1" cy="246.8" r="1.55" fill="#f0f0f0" stroke="#666666" stroke-width="0.95"/>
<circle cx="590.1" cy="261.2" r="1.55" fill="#f0f0f0" stroke="#666666" stroke-width="0.95"/>
<circle cx="594.9" cy="246.8" r="1.55" fill="#ffffff" stroke="#707070" stroke-width="0.95"/>
<circle cx="594.9" cy="261.6" r="1.55" fill="#ffffff" stroke="#707070" stroke-width="0.95"/>
<circle cx="594.9" cy="264.5" r="1.55" fill="#ffffff" stroke="#707070" stroke-width="0.95"/>
<circle cx="594.9" cy="269.4" r="1.55" fill="#ffffff" stroke="#707070" stroke-width="0.95"/>
<circle cx="594.9" cy="277.3" r="1.55" fill="#ffffff" stroke="#707070" stroke-width="0.95"/>
<circle cx="594.9" cy="285.1" r="1.55" fill="#ffffff" stroke="#707070" stroke-width="0.95"/>
<circle cx="599.4" cy="242.3" r="1.55" fill="#ffffff" stroke="#707070" stroke-width="0.95"/>
<circle cx="599.4" cy="247.8" r="1.55" fill="#ffffff" stroke="#707070" stroke-width="0.95"/>
<circle cx="599.4" cy="255.7" r="1.55" fill="#ffffff" stroke="#707070" stroke-width="0.95"/>
<circle cx="599.4" cy="262.5" r="1.55" fill="#ffffff" stroke="#707070" stroke-width="0.95"/>
<circle cx="603.9" cy="249.8" r="1.55" fill="#ffffff" stroke="#707070" stroke-width="0.95"/>
<circle cx="603.9" cy="252.7" r="1.55" fill="#ffffff" stroke="#707070" stroke-width="0.95"/>
<circle cx="603.9" cy="255.7" r="1.55" fill="#ffffff" stroke="#707070" stroke-width="0.95"/>
<circle cx="603.9" cy="258.6" r="1.55" fill="#ffffff" stroke="#707070" stroke-width="0.95"/>
<circle cx="603.9" cy="261.6" r="1.55" fill="#ffffff" stroke="#707070" stroke-width="0.95"/>
<circle cx="603.9" cy="264.5" r="1.55" fill="#ffffff" stroke="#707070" stroke-width="0.95"/>
<circle cx="603.9" cy="267.5" r="1.55" fill="#ffffff" stroke="#707070" stroke-width="0.95"/>
<circle cx="603.9" cy="270.4" r="1.55" fill="#ffffff" stroke="#707070" stroke-width="0.95"/>
<circle cx="603.9" cy="273.3" r="1.55" fill="#ffffff" stroke="#707070" stroke-width="0.95"/>
<circle cx="603.9" cy="276.3" r="1.55" fill="#ffffff" stroke="#707070" stroke-width="0.95"/>
<circle cx="603.9" cy="279.2" r="1.55" fill="#ffffff" stroke="#707070" stroke-width="0.95"/>
<circle cx="603.9" cy="286.7" r="1.55" fill="#ffffff" stroke="#707070" stroke-width="0.95"/>
<circle cx="608.6" cy="263.5" r="1.55" fill="#ffffff" stroke="#707070" stroke-width="0.95"/>
<circle cx="608.6" cy="277.3" r="1.55" fill="#ffffff" stroke="#707070" stroke-width="0.95"/>
<circle cx="613.1" cy="243.9" r="1.55" fill="#ffffff" stroke="#707070" stroke-width="0.95"/>
<circle cx="613.1" cy="246.8" r="1.55" fill="#ffffff" stroke="#707070" stroke-width="0.95"/>
<circle cx="613.1" cy="249.8" r="1.55" fill="#ffffff" stroke="#707070" stroke-width="0.95"/>
<circle cx="613.1" cy="252.7" r="1.55" fill="#ffffff" stroke="#707070" stroke-width="0.95"/>
<circle cx="613.1" cy="255.7" r="1.55" fill="#ffffff" stroke="#707070" stroke-width="0.95"/>
<circle cx="613.1" cy="258.6" r="1.55" fill="#ffffff" stroke="#707070" stroke-width="0.95"/>
<circle cx="613.1" cy="261.6" r="1.55" fill="#ffffff" stroke="#707070" stroke-width="0.95"/>
<circle cx="613.1" cy="266.5" r="1.55" fill="#ffffff" stroke="#707070" stroke-width="0.95"/>
<circle cx="613.1" cy="277.3" r="1.55" fill="#ffffff" stroke="#707070" stroke-width="0.95"/>
<circle cx="613.1" cy="284.2" r="1.55" fill="#ffffff" stroke="#707070" stroke-width="0.95"/>
<circle cx="613.1" cy="288.1" r="1.55" fill="#ffffff" stroke="#707070" stroke-width="0.95"/>
<line x1="506.5" y1="205.3" x2="628.6" y2="275.2" stroke="#3c3c3c" stroke-width="0.9"/>
<polyline points="525.8,208.87 527.98,210.38 530.16,211.9 532.35,213.41 534.53,214.92 536.71,216.43 538.89,217.94 541.08,219.45 543.26,220.95 545.44,222.46 547.62,223.95 549.81,225.45 551.99,226.94 554.17,228.43 556.36,229.91 558.54,231.38 560.72,232.84 562.9,234.3 565.09,235.74 567.27,237.17 569.45,238.59 571.63,239.98 573.81,241.35 576,242.69 578.18,244 580.36,245.28 582.54,246.53 584.73,247.74 586.91,248.92 589.09,250.07 591.27,251.19 593.46,252.29 595.64,253.38 597.82,254.44 600,255.49 602.19,256.53 604.37,257.57 606.55,258.59 608.74,259.61 610.92,260.62 613.1,261.63" fill="none" stroke="#3c3c3c" stroke-width="0.85" stroke-dasharray="5 3"/>
<polyline points="525.8,223.83 527.98,224.81 530.16,225.8 532.35,226.78 534.53,227.77 536.71,228.76 538.89,229.75 541.08,230.74 543.26,231.73 545.44,232.73 547.62,233.73 549.81,234.74 551.99,235.74 554.17,236.76 556.36,237.78 558.54,238.8 560.72,239.83 562.9,240.88 565.09,241.93 567.27,243 569.45,244.09 571.63,245.2 573.81,246.32 576,247.48 578.18,248.67 580.36,249.89 582.54,251.14 584.73,252.43 586.91,253.75 589.09,255.1 591.27,256.47 593.46,257.87 595.64,259.29 597.82,260.72 600,262.17 602.19,263.62 604.37,265.09 606.55,266.57 608.74,268.05 610.92,269.53 613.1,271.03" fill="none" stroke="#3c3c3c" stroke-width="0.85" stroke-dasharray="5 3"/>
<circle cx="639.7" cy="11.8" r="1.5" fill="#ffffff" stroke="#383838" stroke-width="0.8"/>
<text x="644.5" y="14.1" textLength="20.60" lengthAdjust="spacingAndGlyphs">Control</text>
<circle cx="639.7" cy="24.4" r="1.5" fill="#e0e0e0" stroke="#555555" stroke-width="0.8"/>
<text x="644.5" y="26.7" textLength="12.00" lengthAdjust="spacingAndGlyphs">Mild</text>
<circle cx="639.7" cy="36.8" r="1.5" fill="#8a8a8a" stroke="#606060" stroke-width="0.8"/>
<text x="644.5" y="39.1" textLength="28.00" lengthAdjust="spacingAndGlyphs">Moderate</text>
<circle cx="639.7" cy="49.6" r="1.5" fill="#505050" stroke="#383838" stroke-width="0.8"/>
<text x="644.5" y="51.9" textLength="19.30" lengthAdjust="spacingAndGlyphs">Severe</text>
</g>
</svg>
</body></html>
